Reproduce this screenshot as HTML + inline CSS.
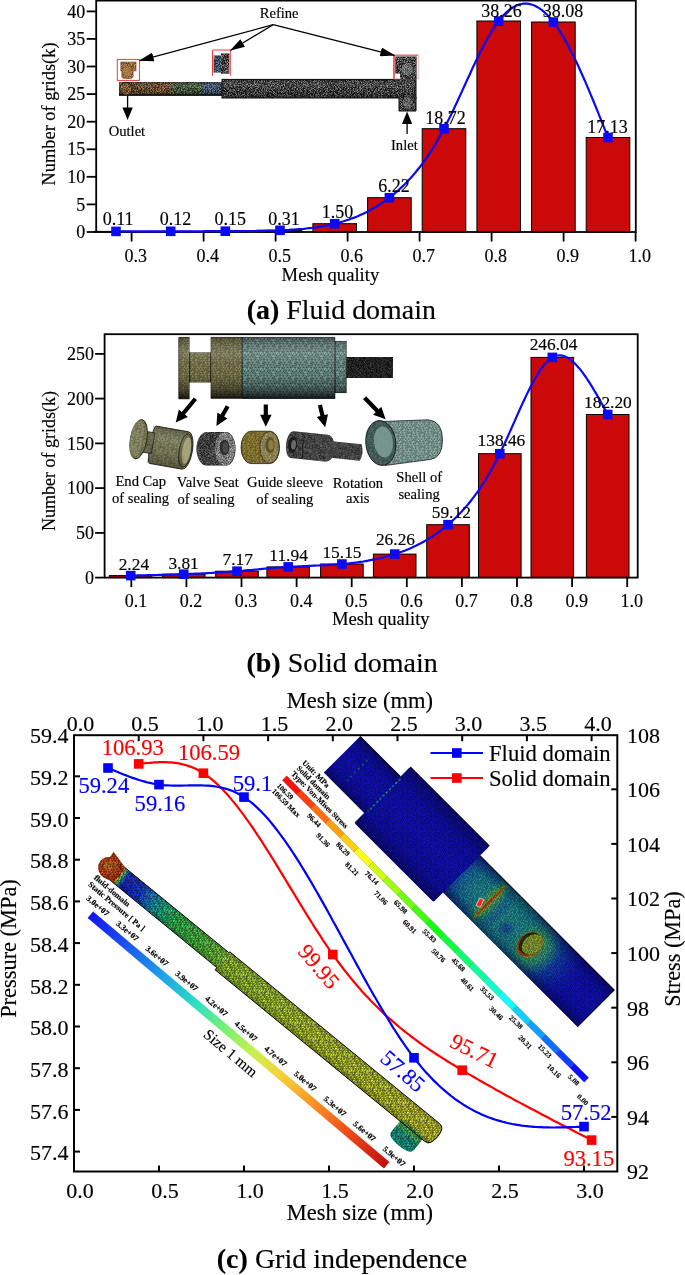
<!DOCTYPE html>
<html><head><meta charset="utf-8"><title>Mesh quality and grid independence</title>
<style>html,body{margin:0;padding:0;background:#fff}svg{display:block}text{font-family:"Liberation Serif", "Times New Roman", serif;stroke:#000;stroke-width:0.16px}</style></head>
<body><svg width="685" height="1275" viewBox="0 0 685 1275">
<rect width="685" height="1275" fill="#fff"/>
<g id="chartA">
<rect x="94.2" y="231.4" width="43.6" height="0.6" fill="#cb0909" stroke="#000" stroke-width="1"/>
<rect x="148.9" y="231.3" width="43.6" height="0.7" fill="#cb0909" stroke="#000" stroke-width="1"/>
<rect x="203.5" y="231.2" width="43.6" height="0.8" fill="#cb0909" stroke="#000" stroke-width="1"/>
<rect x="258.2" y="230.3" width="43.6" height="1.7" fill="#cb0909" stroke="#000" stroke-width="1"/>
<rect x="312.9" y="223.7" width="43.6" height="8.3" fill="#cb0909" stroke="#000" stroke-width="1"/>
<rect x="367.6" y="197.7" width="43.6" height="34.3" fill="#cb0909" stroke="#000" stroke-width="1"/>
<rect x="422.2" y="128.7" width="43.6" height="103.3" fill="#cb0909" stroke="#000" stroke-width="1"/>
<rect x="476.9" y="21.0" width="43.6" height="211.0" fill="#cb0909" stroke="#000" stroke-width="1"/>
<rect x="531.6" y="22.0" width="43.6" height="210.0" fill="#cb0909" stroke="#000" stroke-width="1"/>
<rect x="586.2" y="137.5" width="43.6" height="94.5" fill="#cb0909" stroke="#000" stroke-width="1"/>
<defs><pattern id="mesh" width="13.00" height="14.00" patternUnits="userSpaceOnUse"><path d="M-0.7,-2.2L2.1,-2.4M-0.7,-2.2L-0.4,0.1M-0.7,-2.2L-2.5,0.6M-2.5,0.6L-0.4,0.1M-2.5,0.6L-1.0,2.9M-2.5,0.6L-4.5,1.9M-1.0,2.9L1.1,2.5M-1.0,2.9L0.2,4.1M-1.0,2.9L-2.0,5.4M-2.0,5.4L0.2,4.1M-2.0,5.4L-1.0,6.5M-2.0,5.4L-3.7,6.7M-1.0,6.5L0.5,7.5M-1.0,6.5L-0.4,9.0M-1.0,6.5L-2.0,10.0M-2.0,10.0L-0.4,9.0M-2.0,10.0L-0.7,11.8M-2.0,10.0L-4.1,11.8M-0.7,11.8L2.1,11.6M-0.7,11.8L-0.4,14.1M-0.7,11.8L-2.5,14.6M-2.5,14.6L-0.4,14.1M-2.5,14.6L-1.0,16.9M-2.5,14.6L-4.5,15.9M2.1,-2.4L4.3,-2.2M2.1,-2.4L3.1,-0.0M2.1,-2.4L-0.4,0.1M-0.4,0.1L3.1,-0.0M-0.4,0.1L1.1,2.5M-0.4,0.1L-1.0,2.9M1.1,2.5L4.1,1.8M1.1,2.5L2.8,5.2M1.1,2.5L0.2,4.1M0.2,4.1L2.8,5.2M0.2,4.1L0.5,7.5M0.2,4.1L-1.0,6.5M0.5,7.5L3.9,7.3M0.5,7.5L2.9,8.7M0.5,7.5L-0.4,9.0M-0.4,9.0L2.9,8.7M-0.4,9.0L2.1,11.6M-0.4,9.0L-0.7,11.8M2.1,11.6L4.3,11.8M2.1,11.6L3.1,14.0M2.1,11.6L-0.4,14.1M-0.4,14.1L3.1,14.0M-0.4,14.1L1.1,16.5M-0.4,14.1L-1.0,16.9M4.3,-2.2L6.4,-1.7M4.3,-2.2L4.9,-0.7M4.3,-2.2L3.1,-0.0M3.1,-0.0L4.9,-0.7M3.1,-0.0L4.1,1.8M3.1,-0.0L1.1,2.5M4.1,1.8L7.1,2.3M4.1,1.8L5.5,5.2M4.1,1.8L2.8,5.2M2.8,5.2L5.5,5.2M2.8,5.2L3.9,7.3M2.8,5.2L0.5,7.5M3.9,7.3L6.8,7.6M3.9,7.3L5.0,9.8M3.9,7.3L2.9,8.7M2.9,8.7L5.0,9.8M2.9,8.7L4.3,11.8M2.9,8.7L2.1,11.6M4.3,11.8L6.4,12.3M4.3,11.8L4.9,13.3M4.3,11.8L3.1,14.0M3.1,14.0L4.9,13.3M3.1,14.0L4.1,15.8M3.1,14.0L1.1,16.5M6.4,-1.7L8.9,-2.2M6.4,-1.7L8.4,-0.6M6.4,-1.7L4.9,-0.7M4.9,-0.7L8.4,-0.6M4.9,-0.7L7.1,2.3M4.9,-0.7L4.1,1.8M7.1,2.3L8.5,1.9M7.1,2.3L8.5,4.6M7.1,2.3L5.5,5.2M5.5,5.2L8.5,4.6M5.5,5.2L6.8,7.6M5.5,5.2L3.9,7.3M6.8,7.6L9.3,6.7M6.8,7.6L7.8,9.2M6.8,7.6L5.0,9.8M5.0,9.8L7.8,9.2M5.0,9.8L6.4,12.3M5.0,9.8L4.3,11.8M6.4,12.3L8.9,11.8M6.4,12.3L8.4,13.4M6.4,12.3L4.9,13.3M4.9,13.3L8.4,13.4M4.9,13.3L7.1,16.3M4.9,13.3L4.1,15.8M8.9,-2.2L12.3,-2.2M8.9,-2.2L10.5,0.6M8.9,-2.2L8.4,-0.6M8.4,-0.6L10.5,0.6M8.4,-0.6L8.5,1.9M8.4,-0.6L7.1,2.3M8.5,1.9L12.0,2.9M8.5,1.9L11.0,5.4M8.5,1.9L8.5,4.6M8.5,4.6L11.0,5.4M8.5,4.6L9.3,6.7M8.5,4.6L6.8,7.6M9.3,6.7L12.0,6.5M9.3,6.7L11.0,10.0M9.3,6.7L7.8,9.2M7.8,9.2L11.0,10.0M7.8,9.2L8.9,11.8M7.8,9.2L6.4,12.3M8.9,11.8L12.3,11.8M8.9,11.8L10.5,14.6M8.9,11.8L8.4,13.4M8.4,13.4L10.5,14.6M8.4,13.4L8.5,15.9M8.4,13.4L7.1,16.3M12.3,-2.2L15.1,-2.4M12.3,-2.2L12.6,0.1M12.3,-2.2L10.5,0.6M10.5,0.6L12.6,0.1M10.5,0.6L12.0,2.9M10.5,0.6L8.5,1.9M12.0,2.9L14.1,2.5M12.0,2.9L13.2,4.1M12.0,2.9L11.0,5.4M11.0,5.4L13.2,4.1M11.0,5.4L12.0,6.5M11.0,5.4L9.3,6.7M12.0,6.5L13.5,7.5M12.0,6.5L12.6,9.0M12.0,6.5L11.0,10.0M11.0,10.0L12.6,9.0M11.0,10.0L12.3,11.8M11.0,10.0L8.9,11.8M12.3,11.8L15.1,11.6M12.3,11.8L12.6,14.1M12.3,11.8L10.5,14.6M10.5,14.6L12.6,14.1M10.5,14.6L12.0,16.9M10.5,14.6L8.5,15.9M15.1,-2.4L17.3,-2.2M15.1,-2.4L16.1,-0.0M15.1,-2.4L12.6,0.1M12.6,0.1L16.1,-0.0M12.6,0.1L14.1,2.5M12.6,0.1L12.0,2.9M14.1,2.5L17.1,1.8M14.1,2.5L15.8,5.2M14.1,2.5L13.2,4.1M13.2,4.1L15.8,5.2M13.2,4.1L13.5,7.5M13.2,4.1L12.0,6.5M13.5,7.5L16.9,7.3M13.5,7.5L15.9,8.7M13.5,7.5L12.6,9.0M12.6,9.0L15.9,8.7M12.6,9.0L15.1,11.6M12.6,9.0L12.3,11.8M15.1,11.6L17.3,11.8M15.1,11.6L16.1,14.0M15.1,11.6L12.6,14.1M12.6,14.1L16.1,14.0M12.6,14.1L14.1,16.5M12.6,14.1L12.0,16.9" stroke="#000" stroke-width="0.5" fill="none"/></pattern><pattern id="meshL" width="16.00" height="16.00" patternUnits="userSpaceOnUse"><path d="M-1.3,-3.0L1.7,-3.0M-1.3,-3.0L-0.5,-0.6M-1.3,-3.0L-4.1,0.2M-4.1,0.2L-0.5,-0.6M-4.1,0.2L-2.0,2.7M-4.1,0.2L-4.1,3.2M-2.0,2.7L1.4,2.1M-2.0,2.7L-0.8,5.2M-2.0,2.7L-3.3,5.1M-3.3,5.1L-0.8,5.2M-3.3,5.1L-0.6,7.5M-3.3,5.1L-4.6,7.9M-0.6,7.5L2.4,8.5M-0.6,7.5L0.5,10.2M-0.6,7.5L-3.4,10.2M-3.4,10.2L0.5,10.2M-3.4,10.2L-1.3,13.0M-3.4,10.2L-4.2,12.6M-1.3,13.0L1.7,13.0M-1.3,13.0L-0.5,15.4M-1.3,13.0L-4.1,16.2M-4.1,16.2L-0.5,15.4M-4.1,16.2L-2.0,18.7M-4.1,16.2L-4.1,19.2M1.7,-3.0L5.2,-2.1M1.7,-3.0L2.6,-0.6M1.7,-3.0L-0.5,-0.6M-0.5,-0.6L2.6,-0.6M-0.5,-0.6L1.4,2.1M-0.5,-0.6L-2.0,2.7M1.4,2.1L4.3,3.4M1.4,2.1L3.8,5.8M1.4,2.1L-0.8,5.2M-0.8,5.2L3.8,5.8M-0.8,5.2L2.4,8.5M-0.8,5.2L-0.6,7.5M2.4,8.5L5.4,7.5M2.4,8.5L2.8,10.9M2.4,8.5L0.5,10.2M0.5,10.2L2.8,10.9M0.5,10.2L1.7,13.0M0.5,10.2L-1.3,13.0M1.7,13.0L5.2,13.9M1.7,13.0L2.6,15.4M1.7,13.0L-0.5,15.4M-0.5,15.4L2.6,15.4M-0.5,15.4L1.4,18.1M-0.5,15.4L-2.0,18.7M5.2,-2.1L8.1,-3.0M5.2,-2.1L7.1,-0.7M5.2,-2.1L2.6,-0.6M2.6,-0.6L7.1,-0.7M2.6,-0.6L4.3,3.4M2.6,-0.6L1.4,2.1M4.3,3.4L8.2,2.9M4.3,3.4L6.4,4.8M4.3,3.4L3.8,5.8M3.8,5.8L6.4,4.8M3.8,5.8L5.4,7.5M3.8,5.8L2.4,8.5M5.4,7.5L7.9,7.3M5.4,7.5L7.2,11.3M5.4,7.5L2.8,10.9M2.8,10.9L7.2,11.3M2.8,10.9L5.2,13.9M2.8,10.9L1.7,13.0M5.2,13.9L8.1,13.0M5.2,13.9L7.1,15.3M5.2,13.9L2.6,15.4M2.6,15.4L7.1,15.3M2.6,15.4L4.3,19.4M2.6,15.4L1.4,18.1M8.1,-3.0L11.8,-3.4M8.1,-3.0L10.4,0.1M8.1,-3.0L7.1,-0.7M7.1,-0.7L10.4,0.1M7.1,-0.7L8.2,2.9M7.1,-0.7L4.3,3.4M8.2,2.9L11.9,3.2M8.2,2.9L9.6,5.2M8.2,2.9L6.4,4.8M6.4,4.8L9.6,5.2M6.4,4.8L7.9,7.3M6.4,4.8L5.4,7.5M7.9,7.3L11.4,7.9M7.9,7.3L8.9,10.4M7.9,7.3L7.2,11.3M7.2,11.3L8.9,10.4M7.2,11.3L8.1,13.0M7.2,11.3L5.2,13.9M8.1,13.0L11.8,12.6M8.1,13.0L10.4,16.1M8.1,13.0L7.1,15.3M7.1,15.3L10.4,16.1M7.1,15.3L8.2,18.9M7.1,15.3L4.3,19.4M11.8,-3.4L14.7,-3.0M11.8,-3.4L11.9,0.2M11.8,-3.4L10.4,0.1M10.4,0.1L11.9,0.2M10.4,0.1L11.9,3.2M10.4,0.1L8.2,2.9M11.9,3.2L14.0,2.7M11.9,3.2L12.7,5.1M11.9,3.2L9.6,5.2M9.6,5.2L12.7,5.1M9.6,5.2L11.4,7.9M9.6,5.2L7.9,7.3M11.4,7.9L15.4,7.5M11.4,7.9L12.6,10.2M11.4,7.9L8.9,10.4M8.9,10.4L12.6,10.2M8.9,10.4L11.8,12.6M8.9,10.4L8.1,13.0M11.8,12.6L14.7,13.0M11.8,12.6L11.9,16.2M11.8,12.6L10.4,16.1M10.4,16.1L11.9,16.2M10.4,16.1L11.9,19.2M10.4,16.1L8.2,18.9M14.7,-3.0L17.7,-3.0M14.7,-3.0L15.5,-0.6M14.7,-3.0L11.9,0.2M11.9,0.2L15.5,-0.6M11.9,0.2L14.0,2.7M11.9,0.2L11.9,3.2M14.0,2.7L17.4,2.1M14.0,2.7L15.2,5.2M14.0,2.7L12.7,5.1M12.7,5.1L15.2,5.2M12.7,5.1L15.4,7.5M12.7,5.1L11.4,7.9M15.4,7.5L18.4,8.5M15.4,7.5L16.5,10.2M15.4,7.5L12.6,10.2M12.6,10.2L16.5,10.2M12.6,10.2L14.7,13.0M12.6,10.2L11.8,12.6M14.7,13.0L17.7,13.0M14.7,13.0L15.5,15.4M14.7,13.0L11.9,16.2M11.9,16.2L15.5,15.4M11.9,16.2L14.0,18.7M11.9,16.2L11.9,19.2M17.7,-3.0L21.2,-2.1M17.7,-3.0L18.6,-0.6M17.7,-3.0L15.5,-0.6M15.5,-0.6L18.6,-0.6M15.5,-0.6L17.4,2.1M15.5,-0.6L14.0,2.7M17.4,2.1L20.3,3.4M17.4,2.1L19.8,5.8M17.4,2.1L15.2,5.2M15.2,5.2L19.8,5.8M15.2,5.2L18.4,8.5M15.2,5.2L15.4,7.5M18.4,8.5L21.4,7.5M18.4,8.5L18.8,10.9M18.4,8.5L16.5,10.2M16.5,10.2L18.8,10.9M16.5,10.2L17.7,13.0M16.5,10.2L14.7,13.0M17.7,13.0L21.2,13.9M17.7,13.0L18.6,15.4M17.7,13.0L15.5,15.4M15.5,15.4L18.6,15.4M15.5,15.4L17.4,18.1M15.5,15.4L14.0,18.7" stroke="#000" stroke-width="0.5" fill="none"/></pattern><pattern id="speck" width="12" height="12" patternUnits="userSpaceOnUse"><rect width="12" height="12" fill="#161616"/><rect x="0.0" y="7.2" width="1.1" height="1.1" fill="#8c8c8c"/><rect x="0.0" y="8.4" width="1.2" height="1.2" fill="#c4c4c4"/><rect x="0.0" y="9.6" width="1.1" height="1.1" fill="#8c8c8c"/><rect x="0.0" y="10.8" width="1.0" height="1.0" fill="#c4c4c4"/><rect x="1.2" y="0.0" width="0.9" height="0.9" fill="#c4c4c4"/><rect x="1.2" y="1.2" width="0.8" height="0.8" fill="#8c8c8c"/><rect x="1.2" y="3.6" width="0.9" height="0.9" fill="#5a5a5a"/><rect x="1.2" y="4.8" width="0.8" height="0.8" fill="#c4c4c4"/><rect x="1.2" y="6.0" width="1.1" height="1.1" fill="#c4c4c4"/><rect x="1.2" y="7.2" width="1.0" height="1.0" fill="#c4c4c4"/><rect x="1.2" y="9.6" width="0.8" height="0.8" fill="#5a5a5a"/><rect x="2.4" y="0.0" width="0.9" height="0.9" fill="#c4c4c4"/><rect x="2.4" y="1.2" width="0.8" height="0.8" fill="#c4c4c4"/><rect x="2.4" y="2.4" width="1.0" height="1.0" fill="#5a5a5a"/><rect x="2.4" y="6.0" width="1.1" height="1.1" fill="#8c8c8c"/><rect x="2.4" y="8.4" width="0.9" height="0.9" fill="#8c8c8c"/><rect x="2.4" y="9.6" width="1.2" height="1.2" fill="#8c8c8c"/><rect x="2.4" y="10.8" width="0.9" height="0.9" fill="#5a5a5a"/><rect x="3.6" y="0.0" width="1.1" height="1.1" fill="#5a5a5a"/><rect x="3.6" y="1.2" width="1.1" height="1.1" fill="#5a5a5a"/><rect x="3.6" y="7.2" width="1.2" height="1.2" fill="#c4c4c4"/><rect x="3.6" y="9.6" width="1.1" height="1.1" fill="#8c8c8c"/><rect x="3.6" y="10.8" width="0.8" height="0.8" fill="#8c8c8c"/><rect x="4.8" y="3.6" width="0.8" height="0.8" fill="#c4c4c4"/><rect x="4.8" y="6.0" width="0.9" height="0.9" fill="#c4c4c4"/><rect x="4.8" y="9.6" width="0.9" height="0.9" fill="#8c8c8c"/><rect x="6.0" y="2.4" width="0.8" height="0.8" fill="#8c8c8c"/><rect x="6.0" y="3.6" width="1.0" height="1.0" fill="#5a5a5a"/><rect x="6.0" y="4.8" width="1.1" height="1.1" fill="#c4c4c4"/><rect x="6.0" y="6.0" width="0.9" height="0.9" fill="#8c8c8c"/><rect x="6.0" y="8.4" width="0.7" height="0.7" fill="#5a5a5a"/><rect x="7.2" y="0.0" width="1.0" height="1.0" fill="#5a5a5a"/><rect x="7.2" y="1.2" width="0.8" height="0.8" fill="#8c8c8c"/><rect x="7.2" y="3.6" width="0.9" height="0.9" fill="#8c8c8c"/><rect x="8.4" y="2.4" width="1.2" height="1.2" fill="#8c8c8c"/><rect x="8.4" y="3.6" width="1.2" height="1.2" fill="#5a5a5a"/><rect x="8.4" y="7.2" width="1.0" height="1.0" fill="#c4c4c4"/><rect x="9.6" y="0.0" width="1.1" height="1.1" fill="#8c8c8c"/><rect x="9.6" y="3.6" width="1.0" height="1.0" fill="#5a5a5a"/><rect x="9.6" y="6.0" width="1.1" height="1.1" fill="#5a5a5a"/><rect x="9.6" y="8.4" width="1.0" height="1.0" fill="#c4c4c4"/><rect x="9.6" y="9.6" width="1.1" height="1.1" fill="#5a5a5a"/><rect x="9.6" y="10.8" width="0.9" height="0.9" fill="#8c8c8c"/><rect x="10.8" y="3.6" width="0.9" height="0.9" fill="#5a5a5a"/><rect x="10.8" y="6.0" width="1.1" height="1.1" fill="#c4c4c4"/></pattern><pattern id="speckB" width="12" height="12" patternUnits="userSpaceOnUse"><rect width="12" height="12" fill="#3c2a1a"/><rect x="0.0" y="2.4" width="0.7" height="0.7" fill="#b07c4c"/><rect x="0.0" y="3.6" width="0.9" height="0.9" fill="#7a5230"/><rect x="0.0" y="6.0" width="0.9" height="0.9" fill="#e0ac72"/><rect x="0.0" y="9.6" width="1.0" height="1.0" fill="#7a5230"/><rect x="0.0" y="10.8" width="1.0" height="1.0" fill="#7a5230"/><rect x="1.2" y="1.2" width="1.0" height="1.0" fill="#7a5230"/><rect x="1.2" y="3.6" width="0.9" height="0.9" fill="#e0ac72"/><rect x="1.2" y="4.8" width="0.9" height="0.9" fill="#b07c4c"/><rect x="1.2" y="6.0" width="1.1" height="1.1" fill="#e0ac72"/><rect x="1.2" y="8.4" width="1.0" height="1.0" fill="#e0ac72"/><rect x="1.2" y="9.6" width="1.2" height="1.2" fill="#7a5230"/><rect x="1.2" y="10.8" width="1.0" height="1.0" fill="#e0ac72"/><rect x="2.4" y="4.8" width="0.8" height="0.8" fill="#b07c4c"/><rect x="2.4" y="6.0" width="1.0" height="1.0" fill="#b07c4c"/><rect x="2.4" y="7.2" width="1.0" height="1.0" fill="#7a5230"/><rect x="2.4" y="8.4" width="0.8" height="0.8" fill="#7a5230"/><rect x="2.4" y="10.8" width="0.8" height="0.8" fill="#e0ac72"/><rect x="3.6" y="0.0" width="1.0" height="1.0" fill="#7a5230"/><rect x="3.6" y="1.2" width="0.7" height="0.7" fill="#e0ac72"/><rect x="3.6" y="2.4" width="1.0" height="1.0" fill="#7a5230"/><rect x="3.6" y="3.6" width="1.0" height="1.0" fill="#b07c4c"/><rect x="3.6" y="4.8" width="1.2" height="1.2" fill="#7a5230"/><rect x="3.6" y="6.0" width="1.0" height="1.0" fill="#b07c4c"/><rect x="3.6" y="8.4" width="0.8" height="0.8" fill="#b07c4c"/><rect x="4.8" y="2.4" width="1.1" height="1.1" fill="#b07c4c"/><rect x="4.8" y="3.6" width="0.9" height="0.9" fill="#b07c4c"/><rect x="4.8" y="7.2" width="0.8" height="0.8" fill="#7a5230"/><rect x="4.8" y="8.4" width="0.7" height="0.7" fill="#e0ac72"/><rect x="4.8" y="9.6" width="1.0" height="1.0" fill="#b07c4c"/><rect x="4.8" y="10.8" width="1.0" height="1.0" fill="#b07c4c"/><rect x="6.0" y="0.0" width="0.8" height="0.8" fill="#7a5230"/><rect x="6.0" y="1.2" width="1.0" height="1.0" fill="#b07c4c"/><rect x="6.0" y="2.4" width="1.0" height="1.0" fill="#b07c4c"/><rect x="6.0" y="3.6" width="0.9" height="0.9" fill="#7a5230"/><rect x="6.0" y="4.8" width="0.9" height="0.9" fill="#b07c4c"/><rect x="6.0" y="9.6" width="0.8" height="0.8" fill="#7a5230"/><rect x="7.2" y="2.4" width="1.0" height="1.0" fill="#b07c4c"/><rect x="7.2" y="6.0" width="1.1" height="1.1" fill="#7a5230"/><rect x="7.2" y="7.2" width="0.9" height="0.9" fill="#7a5230"/><rect x="7.2" y="9.6" width="0.7" height="0.7" fill="#7a5230"/><rect x="7.2" y="10.8" width="1.0" height="1.0" fill="#b07c4c"/><rect x="8.4" y="0.0" width="1.0" height="1.0" fill="#7a5230"/><rect x="8.4" y="1.2" width="0.9" height="0.9" fill="#e0ac72"/><rect x="8.4" y="4.8" width="0.8" height="0.8" fill="#b07c4c"/><rect x="8.4" y="7.2" width="0.7" height="0.7" fill="#e0ac72"/><rect x="8.4" y="8.4" width="1.2" height="1.2" fill="#7a5230"/><rect x="9.6" y="0.0" width="0.8" height="0.8" fill="#e0ac72"/><rect x="9.6" y="2.4" width="0.9" height="0.9" fill="#7a5230"/><rect x="9.6" y="6.0" width="1.2" height="1.2" fill="#e0ac72"/><rect x="9.6" y="7.2" width="0.9" height="0.9" fill="#b07c4c"/><rect x="9.6" y="8.4" width="1.0" height="1.0" fill="#7a5230"/><rect x="9.6" y="10.8" width="0.9" height="0.9" fill="#b07c4c"/><rect x="10.8" y="1.2" width="0.9" height="0.9" fill="#b07c4c"/><rect x="10.8" y="3.6" width="0.7" height="0.7" fill="#b07c4c"/><rect x="10.8" y="4.8" width="1.0" height="1.0" fill="#7a5230"/><rect x="10.8" y="6.0" width="1.1" height="1.1" fill="#e0ac72"/><rect x="10.8" y="7.2" width="0.7" height="0.7" fill="#e0ac72"/></pattern><pattern id="speckG" width="12" height="12" patternUnits="userSpaceOnUse"><rect width="12" height="12" fill="#26321f"/><rect x="0.0" y="0.0" width="0.9" height="0.9" fill="#94b488"/><rect x="0.0" y="1.2" width="0.8" height="0.8" fill="#4a6a44"/><rect x="0.0" y="2.4" width="0.8" height="0.8" fill="#4a6a44"/><rect x="0.0" y="3.6" width="0.8" height="0.8" fill="#688a60"/><rect x="0.0" y="4.8" width="0.7" height="0.7" fill="#688a60"/><rect x="0.0" y="6.0" width="1.0" height="1.0" fill="#94b488"/><rect x="0.0" y="7.2" width="1.0" height="1.0" fill="#94b488"/><rect x="0.0" y="8.4" width="0.7" height="0.7" fill="#94b488"/><rect x="0.0" y="10.8" width="1.0" height="1.0" fill="#94b488"/><rect x="1.2" y="0.0" width="1.1" height="1.1" fill="#4a6a44"/><rect x="1.2" y="1.2" width="1.0" height="1.0" fill="#4a6a44"/><rect x="1.2" y="2.4" width="1.0" height="1.0" fill="#94b488"/><rect x="1.2" y="3.6" width="1.0" height="1.0" fill="#94b488"/><rect x="1.2" y="4.8" width="0.9" height="0.9" fill="#4a6a44"/><rect x="1.2" y="6.0" width="1.2" height="1.2" fill="#4a6a44"/><rect x="1.2" y="7.2" width="1.1" height="1.1" fill="#94b488"/><rect x="1.2" y="9.6" width="0.9" height="0.9" fill="#4a6a44"/><rect x="1.2" y="10.8" width="1.1" height="1.1" fill="#688a60"/><rect x="2.4" y="0.0" width="0.8" height="0.8" fill="#94b488"/><rect x="2.4" y="1.2" width="0.8" height="0.8" fill="#688a60"/><rect x="2.4" y="2.4" width="1.2" height="1.2" fill="#94b488"/><rect x="2.4" y="3.6" width="1.0" height="1.0" fill="#4a6a44"/><rect x="2.4" y="6.0" width="0.9" height="0.9" fill="#4a6a44"/><rect x="2.4" y="7.2" width="0.8" height="0.8" fill="#688a60"/><rect x="2.4" y="8.4" width="0.9" height="0.9" fill="#688a60"/><rect x="2.4" y="10.8" width="0.9" height="0.9" fill="#4a6a44"/><rect x="3.6" y="0.0" width="1.1" height="1.1" fill="#4a6a44"/><rect x="3.6" y="1.2" width="1.1" height="1.1" fill="#688a60"/><rect x="3.6" y="2.4" width="0.9" height="0.9" fill="#688a60"/><rect x="3.6" y="4.8" width="1.1" height="1.1" fill="#94b488"/><rect x="3.6" y="6.0" width="0.9" height="0.9" fill="#94b488"/><rect x="3.6" y="8.4" width="0.9" height="0.9" fill="#94b488"/><rect x="3.6" y="9.6" width="1.1" height="1.1" fill="#94b488"/><rect x="4.8" y="0.0" width="1.2" height="1.2" fill="#688a60"/><rect x="4.8" y="2.4" width="0.8" height="0.8" fill="#94b488"/><rect x="4.8" y="3.6" width="1.0" height="1.0" fill="#94b488"/><rect x="4.8" y="4.8" width="0.8" height="0.8" fill="#4a6a44"/><rect x="4.8" y="6.0" width="0.9" height="0.9" fill="#94b488"/><rect x="4.8" y="7.2" width="0.9" height="0.9" fill="#4a6a44"/><rect x="4.8" y="8.4" width="1.2" height="1.2" fill="#4a6a44"/><rect x="6.0" y="0.0" width="1.1" height="1.1" fill="#4a6a44"/><rect x="6.0" y="1.2" width="0.9" height="0.9" fill="#688a60"/><rect x="6.0" y="2.4" width="0.7" height="0.7" fill="#688a60"/><rect x="6.0" y="3.6" width="0.9" height="0.9" fill="#94b488"/><rect x="6.0" y="4.8" width="0.7" height="0.7" fill="#4a6a44"/><rect x="6.0" y="6.0" width="1.0" height="1.0" fill="#94b488"/><rect x="6.0" y="9.6" width="1.0" height="1.0" fill="#94b488"/><rect x="6.0" y="10.8" width="1.2" height="1.2" fill="#688a60"/><rect x="7.2" y="1.2" width="1.1" height="1.1" fill="#94b488"/><rect x="7.2" y="3.6" width="0.9" height="0.9" fill="#688a60"/><rect x="7.2" y="4.8" width="0.9" height="0.9" fill="#4a6a44"/><rect x="7.2" y="6.0" width="0.8" height="0.8" fill="#4a6a44"/><rect x="7.2" y="7.2" width="0.9" height="0.9" fill="#4a6a44"/><rect x="8.4" y="0.0" width="1.1" height="1.1" fill="#4a6a44"/><rect x="8.4" y="2.4" width="1.2" height="1.2" fill="#688a60"/><rect x="8.4" y="3.6" width="1.0" height="1.0" fill="#94b488"/><rect x="8.4" y="6.0" width="1.0" height="1.0" fill="#94b488"/><rect x="8.4" y="9.6" width="1.1" height="1.1" fill="#94b488"/><rect x="9.6" y="0.0" width="1.0" height="1.0" fill="#4a6a44"/><rect x="9.6" y="4.8" width="1.1" height="1.1" fill="#94b488"/><rect x="9.6" y="7.2" width="1.2" height="1.2" fill="#4a6a44"/><rect x="9.6" y="9.6" width="0.8" height="0.8" fill="#94b488"/><rect x="9.6" y="10.8" width="0.8" height="0.8" fill="#688a60"/><rect x="10.8" y="3.6" width="0.9" height="0.9" fill="#4a6a44"/><rect x="10.8" y="7.2" width="1.1" height="1.1" fill="#688a60"/><rect x="10.8" y="9.6" width="0.9" height="0.9" fill="#94b488"/></pattern><pattern id="speckU" width="12" height="12" patternUnits="userSpaceOnUse"><rect width="12" height="12" fill="#242e3c"/><rect x="0.0" y="0.0" width="0.8" height="0.8" fill="#647c9a"/><rect x="0.0" y="2.4" width="1.1" height="1.1" fill="#96acc6"/><rect x="0.0" y="3.6" width="1.0" height="1.0" fill="#647c9a"/><rect x="0.0" y="4.8" width="0.9" height="0.9" fill="#647c9a"/><rect x="0.0" y="6.0" width="0.8" height="0.8" fill="#647c9a"/><rect x="0.0" y="7.2" width="1.1" height="1.1" fill="#96acc6"/><rect x="0.0" y="8.4" width="1.2" height="1.2" fill="#647c9a"/><rect x="0.0" y="9.6" width="1.0" height="1.0" fill="#96acc6"/><rect x="0.0" y="10.8" width="0.9" height="0.9" fill="#96acc6"/><rect x="1.2" y="1.2" width="0.9" height="0.9" fill="#96acc6"/><rect x="1.2" y="3.6" width="1.0" height="1.0" fill="#46607e"/><rect x="1.2" y="4.8" width="1.0" height="1.0" fill="#96acc6"/><rect x="1.2" y="6.0" width="1.0" height="1.0" fill="#96acc6"/><rect x="1.2" y="7.2" width="0.9" height="0.9" fill="#46607e"/><rect x="1.2" y="8.4" width="0.9" height="0.9" fill="#647c9a"/><rect x="1.2" y="9.6" width="0.8" height="0.8" fill="#647c9a"/><rect x="2.4" y="0.0" width="0.9" height="0.9" fill="#46607e"/><rect x="2.4" y="1.2" width="1.1" height="1.1" fill="#46607e"/><rect x="2.4" y="2.4" width="0.9" height="0.9" fill="#96acc6"/><rect x="2.4" y="3.6" width="1.0" height="1.0" fill="#647c9a"/><rect x="2.4" y="4.8" width="1.2" height="1.2" fill="#46607e"/><rect x="2.4" y="6.0" width="0.8" height="0.8" fill="#647c9a"/><rect x="2.4" y="7.2" width="0.8" height="0.8" fill="#647c9a"/><rect x="2.4" y="8.4" width="0.9" height="0.9" fill="#647c9a"/><rect x="3.6" y="0.0" width="0.8" height="0.8" fill="#647c9a"/><rect x="3.6" y="3.6" width="0.9" height="0.9" fill="#96acc6"/><rect x="3.6" y="4.8" width="0.9" height="0.9" fill="#647c9a"/><rect x="3.6" y="6.0" width="1.2" height="1.2" fill="#647c9a"/><rect x="3.6" y="7.2" width="0.9" height="0.9" fill="#46607e"/><rect x="3.6" y="8.4" width="0.8" height="0.8" fill="#46607e"/><rect x="3.6" y="10.8" width="0.8" height="0.8" fill="#46607e"/><rect x="4.8" y="0.0" width="0.8" height="0.8" fill="#647c9a"/><rect x="4.8" y="2.4" width="1.2" height="1.2" fill="#96acc6"/><rect x="4.8" y="3.6" width="1.2" height="1.2" fill="#96acc6"/><rect x="4.8" y="4.8" width="1.0" height="1.0" fill="#46607e"/><rect x="4.8" y="7.2" width="0.7" height="0.7" fill="#647c9a"/><rect x="4.8" y="9.6" width="0.7" height="0.7" fill="#46607e"/><rect x="6.0" y="2.4" width="0.9" height="0.9" fill="#96acc6"/><rect x="6.0" y="3.6" width="0.8" height="0.8" fill="#96acc6"/><rect x="6.0" y="6.0" width="1.1" height="1.1" fill="#647c9a"/><rect x="6.0" y="7.2" width="1.0" height="1.0" fill="#96acc6"/><rect x="6.0" y="8.4" width="1.1" height="1.1" fill="#96acc6"/><rect x="6.0" y="9.6" width="1.1" height="1.1" fill="#96acc6"/><rect x="6.0" y="10.8" width="1.1" height="1.1" fill="#647c9a"/><rect x="7.2" y="0.0" width="0.8" height="0.8" fill="#96acc6"/><rect x="7.2" y="1.2" width="0.8" height="0.8" fill="#96acc6"/><rect x="7.2" y="2.4" width="1.0" height="1.0" fill="#46607e"/><rect x="7.2" y="3.6" width="1.1" height="1.1" fill="#647c9a"/><rect x="7.2" y="4.8" width="1.1" height="1.1" fill="#46607e"/><rect x="7.2" y="6.0" width="1.0" height="1.0" fill="#46607e"/><rect x="7.2" y="7.2" width="1.0" height="1.0" fill="#647c9a"/><rect x="7.2" y="10.8" width="0.9" height="0.9" fill="#46607e"/><rect x="8.4" y="0.0" width="1.2" height="1.2" fill="#647c9a"/><rect x="8.4" y="2.4" width="0.8" height="0.8" fill="#647c9a"/><rect x="8.4" y="3.6" width="0.9" height="0.9" fill="#46607e"/><rect x="8.4" y="7.2" width="1.1" height="1.1" fill="#46607e"/><rect x="8.4" y="8.4" width="1.0" height="1.0" fill="#647c9a"/><rect x="8.4" y="9.6" width="0.9" height="0.9" fill="#647c9a"/><rect x="9.6" y="1.2" width="0.9" height="0.9" fill="#647c9a"/><rect x="9.6" y="2.4" width="1.0" height="1.0" fill="#46607e"/><rect x="9.6" y="4.8" width="1.0" height="1.0" fill="#46607e"/><rect x="9.6" y="6.0" width="0.8" height="0.8" fill="#647c9a"/><rect x="9.6" y="8.4" width="0.8" height="0.8" fill="#96acc6"/><rect x="9.6" y="9.6" width="1.1" height="1.1" fill="#46607e"/><rect x="10.8" y="4.8" width="0.8" height="0.8" fill="#46607e"/><rect x="10.8" y="8.4" width="1.2" height="1.2" fill="#96acc6"/></pattern>
<linearGradient id="cylV" x1="0" y1="0" x2="0" y2="1"><stop offset="0" stop-color="#000" stop-opacity="0.35"/><stop offset="0.35" stop-color="#fff" stop-opacity="0.12"/><stop offset="0.6" stop-color="#000" stop-opacity="0"/><stop offset="1" stop-color="#000" stop-opacity="0.45"/></linearGradient>
<filter id="spk" x="0" y="0" width="1" height="1" color-interpolation-filters="sRGB"><feTurbulence type="fractalNoise" baseFrequency="1.3" numOctaves="1" seed="4" result="n"/><feColorMatrix in="n" type="matrix" values="0 0 0 0 0 0 0 0 0 0 0 0 0 0 0 3 0 0 0 -1.15" result="m"/><feComposite in="SourceGraphic" in2="m" operator="in"/></filter>
<filter id="spk2" x="0" y="0" width="1" height="1" color-interpolation-filters="sRGB"><feTurbulence type="fractalNoise" baseFrequency="1.5" numOctaves="1" seed="9" result="n"/><feColorMatrix in="n" type="matrix" values="0 0 0 0 0 0 0 0 0 0 0 0 0 0 0 2 0 0 0 -0.62" result="m"/><feComposite in="SourceGraphic" in2="m" operator="in"/></filter>
<linearGradient id="cylV2" x1="0" y1="0" x2="0" y2="1"><stop offset="0" stop-color="#000" stop-opacity="0.3"/><stop offset="0.3" stop-color="#fff" stop-opacity="0.1"/><stop offset="0.6" stop-color="#000" stop-opacity="0"/><stop offset="0.85" stop-color="#000" stop-opacity="0.35"/><stop offset="1" stop-color="#000" stop-opacity="0.8"/></linearGradient>
<marker id="ah" viewBox="0 0 15 9" refX="14" refY="4.5" markerWidth="15" markerHeight="9" markerUnits="userSpaceOnUse" orient="auto"><path d="M0,0L15,4.5L0,9z" fill="#000"/></marker>
</defs><g id="insetA">
<path d="M119,82H171V95.6H119z" fill="#2c1e12"/><path d="M119,82H171V95.6H119z" fill="#b98a5a" filter="url(#spk)"/>
<path d="M171,82H201V95.6H171z" fill="#1c2618"/><path d="M171,82H201V95.6H171z" fill="#78966e" filter="url(#spk)"/>
<path d="M201,82H222.5V95.6H201z" fill="#1a2230"/><path d="M201,82H222.5V95.6H201z" fill="#7a90aa" filter="url(#spk)"/>
<rect x="119" y="82" width="103.5" height="13.6" fill="url(#cylV)" opacity="0.7"/>
<rect x="119" y="94" width="103.5" height="1.8" fill="#151515"/>
<circle cx="126" cy="88.6" r="6.3" fill="#4a3018" stroke="#20140a" stroke-width="0.8"/><circle cx="126" cy="88.6" r="5.8" fill="#c09060" filter="url(#spk)"/>
<path d="M222,79.4H416V98H222z" fill="#101010"/><path d="M222,79.4H416V98H222z" fill="#8e8e8e" filter="url(#spk)"/>
<rect x="222" y="79.4" width="194" height="18.6" fill="url(#cylV)" opacity="0.6"/>
<rect x="222" y="79.4" width="194" height="18.6" fill="none" stroke="#0a0a0a" stroke-width="1"/>
<path d="M399,97H416V111H399z" fill="#101010"/><path d="M399,97H416V111H399z" fill="#8e8e8e" filter="url(#spk)"/>
<path d="M399,97 V111 H416 V97" fill="none" stroke="#0a0a0a" stroke-width="1"/>
<ellipse cx="407.5" cy="103" rx="4.5" ry="6.5" fill="#999" opacity="0.4"/>
<rect x="117.3" y="59.4" width="22.1" height="21" fill="#fff" stroke="#ee3b3b" stroke-width="1"/>
<path d="M120.5,61.8 H136.3 V71.2 H133.4 V76.5 Q133.4,79 127.5,79 Q121.5,79 121.5,76.5 V71.2 H120.5z" fill="#6e4a2a"/><path d="M120.5,61.8 H136.3 V71.2 H133.4 V76.5 Q133.4,79 127.5,79 Q121.5,79 121.5,76.5 V71.2 H120.5z" fill="#c8945e" filter="url(#spk)"/>
<ellipse cx="127" cy="71.5" rx="4.5" ry="4" fill="#c08a58" opacity="0.6"/>
<path d="M212.5,75.7 V50 H230.3 V75.7" fill="none" stroke="#ee3b3b" stroke-width="1"/>
<path d="M213.6,55.5H221.2V72.5H213.6z" fill="#1e2836"/><path d="M213.6,55.5H221.2V72.5H213.6z" fill="#7088a4" filter="url(#spk)"/>
<path d="M221,53.5H229.3V73.7H221z" fill="#121212"/><path d="M221,53.5H229.3V73.7H221z" fill="#969696" filter="url(#spk)"/>
<rect x="394" y="55.2" width="24.2" height="23.6" fill="#fff" stroke="#f6a5a5" stroke-width="1"/>
<path d="M394,55.2 V78.8" stroke="#e02020" stroke-width="1.2"/><path d="M394,55.2 H418" stroke="#ee4a4a" stroke-width="1"/>
<path d="M395.3,56.4 H416.6 V79 H400 V73.5 H395.3z" fill="#121212"/><path d="M395.3,56.4 H416.6 V79 H400 V73.5 H395.3z" fill="#969696" filter="url(#spk)"/>
<ellipse cx="407" cy="69" rx="5.5" ry="6" fill="#aaa" opacity="0.4"/>
<line x1="273.2" y1="24.7" x2="139.8" y2="60.6" stroke="#000" stroke-width="1.3" marker-end="url(#ah)"/>
<line x1="273.2" y1="24.7" x2="230.7" y2="50.2" stroke="#000" stroke-width="1.3" marker-end="url(#ah)"/>
<line x1="273.2" y1="24.7" x2="394.3" y2="55.3" stroke="#000" stroke-width="1.3" marker-end="url(#ah)"/>
<line x1="127.6" y1="96" x2="127.6" y2="110" stroke="#000" stroke-width="1.3"/><path d="M122.4,107.5 H132.8 L127.6,120z" fill="#000"/>
<line x1="407.1" y1="134" x2="407.1" y2="121" stroke="#000" stroke-width="1.3"/><path d="M402,124 H412.2 L407.1,111.6z" fill="#000"/>
<text x="259.7" y="17.9" font-size="14.6">Refine</text>
<text x="108.7" y="136" font-size="14.6">Outlet</text>
<text x="391" y="149.8" font-size="14.6">Inlet</text>
</g>
<rect x="96.2" y="0.6" width="539.5999999999999" height="231.4" fill="none" stroke="#000" stroke-width="1.8"/>
<line x1="86.7" y1="232.0" x2="96.2" y2="232.0" stroke="#000" stroke-width="1.8"/>
<text x="85.3" y="238.1" font-size="18" text-anchor="end" fill="#000">0</text>
<line x1="86.7" y1="204.4" x2="96.2" y2="204.4" stroke="#000" stroke-width="1.8"/>
<text x="85.3" y="210.5" font-size="18" text-anchor="end" fill="#000">5</text>
<line x1="86.7" y1="176.8" x2="96.2" y2="176.8" stroke="#000" stroke-width="1.8"/>
<text x="85.3" y="182.9" font-size="18" text-anchor="end" fill="#000">10</text>
<line x1="86.7" y1="149.3" x2="96.2" y2="149.3" stroke="#000" stroke-width="1.8"/>
<text x="85.3" y="155.4" font-size="18" text-anchor="end" fill="#000">15</text>
<line x1="86.7" y1="121.7" x2="96.2" y2="121.7" stroke="#000" stroke-width="1.8"/>
<text x="85.3" y="127.8" font-size="18" text-anchor="end" fill="#000">20</text>
<line x1="86.7" y1="94.1" x2="96.2" y2="94.1" stroke="#000" stroke-width="1.8"/>
<text x="85.3" y="100.2" font-size="18" text-anchor="end" fill="#000">25</text>
<line x1="86.7" y1="66.5" x2="96.2" y2="66.5" stroke="#000" stroke-width="1.8"/>
<text x="85.3" y="72.6" font-size="18" text-anchor="end" fill="#000">30</text>
<line x1="86.7" y1="38.9" x2="96.2" y2="38.9" stroke="#000" stroke-width="1.8"/>
<text x="85.3" y="45.0" font-size="18" text-anchor="end" fill="#000">35</text>
<line x1="86.7" y1="11.4" x2="96.2" y2="11.4" stroke="#000" stroke-width="1.8"/>
<text x="85.3" y="17.5" font-size="18" text-anchor="end" fill="#000">40</text>
<line x1="131.6" y1="232.0" x2="131.6" y2="241.5" stroke="#000" stroke-width="1.8"/>
<text x="135.8" y="262.3" font-size="18" text-anchor="middle" fill="#000">0.3</text>
<line x1="203.6" y1="232.0" x2="203.6" y2="241.5" stroke="#000" stroke-width="1.8"/>
<text x="207.8" y="262.3" font-size="18" text-anchor="middle" fill="#000">0.4</text>
<line x1="275.6" y1="232.0" x2="275.6" y2="241.5" stroke="#000" stroke-width="1.8"/>
<text x="279.8" y="262.3" font-size="18" text-anchor="middle" fill="#000">0.5</text>
<line x1="347.6" y1="232.0" x2="347.6" y2="241.5" stroke="#000" stroke-width="1.8"/>
<text x="351.8" y="262.3" font-size="18" text-anchor="middle" fill="#000">0.6</text>
<line x1="419.6" y1="232.0" x2="419.6" y2="241.5" stroke="#000" stroke-width="1.8"/>
<text x="423.8" y="262.3" font-size="18" text-anchor="middle" fill="#000">0.7</text>
<line x1="491.6" y1="232.0" x2="491.6" y2="241.5" stroke="#000" stroke-width="1.8"/>
<text x="495.8" y="262.3" font-size="18" text-anchor="middle" fill="#000">0.8</text>
<line x1="563.6" y1="232.0" x2="563.6" y2="241.5" stroke="#000" stroke-width="1.8"/>
<text x="567.8" y="262.3" font-size="18" text-anchor="middle" fill="#000">0.9</text>
<line x1="635.6" y1="232.0" x2="635.6" y2="241.5" stroke="#000" stroke-width="1.8"/>
<text x="639.8" y="262.3" font-size="18" text-anchor="middle" fill="#000">1.0</text>
<text x="330.4" y="280.7" font-size="18.6" text-anchor="middle" fill="#000">Mesh quality</text>
<text x="55" y="114" font-size="18.4" text-anchor="middle" fill="#000" transform="rotate(-90 55 114)">Number of grids(k)</text>
<path d="M116.0,231.4 L118.5,231.4 L120.9,231.4 L123.4,231.4 L125.9,231.4 L128.4,231.4 L130.8,231.4 L133.3,231.4 L135.8,231.4 L138.3,231.4 L140.7,231.4 L143.2,231.4 L145.7,231.4 L148.1,231.4 L150.6,231.4 L153.1,231.4 L155.6,231.4 L158.0,231.4 L160.5,231.4 L163.0,231.4 L165.5,231.3 L167.9,231.3 L170.4,231.3 L172.9,231.3 L175.3,231.3 L177.8,231.3 L180.3,231.3 L182.8,231.3 L185.2,231.3 L187.7,231.3 L190.2,231.3 L192.6,231.3 L195.1,231.3 L197.6,231.3 L200.1,231.3 L202.5,231.3 L205.0,231.2 L207.5,231.2 L210.0,231.2 L212.4,231.2 L214.9,231.2 L217.4,231.2 L219.8,231.2 L222.3,231.2 L224.8,231.2 L227.3,231.2 L229.7,231.2 L232.2,231.1 L234.7,231.1 L237.2,231.1 L239.6,231.1 L242.1,231.1 L244.6,231.1 L247.0,231.0 L249.5,231.0 L252.0,231.0 L254.5,231.0 L256.9,230.9 L259.4,230.9 L261.9,230.8 L264.4,230.8 L266.8,230.7 L269.3,230.6 L271.8,230.6 L274.2,230.5 L276.7,230.4 L279.2,230.3 L281.7,230.2 L284.1,230.1 L286.6,230.0 L289.1,229.9 L291.5,229.7 L294.0,229.6 L296.5,229.4 L299.0,229.2 L301.4,229.0 L303.9,228.8 L306.4,228.5 L308.9,228.2 L311.3,228.0 L313.8,227.6 L316.3,227.3 L318.7,226.9 L321.2,226.5 L323.7,226.1 L326.2,225.6 L328.6,225.1 L331.1,224.6 L333.6,224.0 L336.1,223.4 L338.5,222.7 L341.0,222.0 L343.5,221.3 L345.9,220.5 L348.4,219.7 L350.9,218.8 L353.4,217.9 L355.8,216.9 L358.3,215.9 L360.8,214.8 L363.3,213.7 L365.7,212.5 L368.2,211.2 L370.7,209.9 L373.1,208.5 L375.6,207.1 L378.1,205.5 L380.6,203.9 L383.0,202.3 L385.5,200.5 L388.0,198.7 L390.4,196.8 L392.9,194.9 L395.4,192.8 L397.9,190.7 L400.3,188.4 L402.8,186.1 L405.3,183.7 L407.8,181.1 L410.2,178.5 L412.7,175.7 L415.2,172.8 L417.6,169.8 L420.1,166.7 L422.6,163.4 L425.1,160.0 L427.5,156.4 L430.0,152.7 L432.5,148.9 L435.0,144.9 L437.4,140.7 L439.9,136.3 L442.4,131.8 L444.8,127.2 L447.3,122.3 L449.8,117.3 L452.3,112.2 L454.7,107.0 L457.2,101.7 L459.7,96.3 L462.2,90.9 L464.6,85.5 L467.1,80.0 L469.6,74.7 L472.0,69.3 L474.5,64.1 L477.0,58.9 L479.5,53.8 L481.9,48.9 L484.4,44.2 L486.9,39.6 L489.3,35.2 L491.8,31.1 L494.3,27.2 L496.8,23.6 L499.2,20.2 L501.7,17.2 L504.2,14.5 L506.7,12.1 L509.1,10.0 L511.6,8.2 L514.1,6.7 L516.5,5.5 L519.0,4.6 L521.5,4.0 L524.0,3.7 L526.4,3.6 L528.9,3.9 L531.4,4.5 L533.9,5.3 L536.3,6.5 L538.8,7.9 L541.3,9.6 L543.7,11.6 L546.2,13.8 L548.7,16.4 L551.2,19.2 L553.6,22.3 L556.1,25.7 L558.6,29.3 L561.1,33.2 L563.5,37.3 L566.0,41.6 L568.5,46.2 L570.9,50.9 L573.4,55.9 L575.9,61.0 L578.4,66.2 L580.8,71.7 L583.3,77.2 L585.8,82.9 L588.2,88.7 L590.7,94.6 L593.2,100.5 L595.7,106.6 L598.1,112.7 L600.6,118.9 L603.1,125.1 L605.6,131.3 L608.0,137.5" fill="none" stroke="#0a0af5" stroke-width="2.2" stroke-linejoin="round"/>
<rect x="111.2" y="226.6" width="9.6" height="9.6" fill="#0a0af5"/>
<rect x="165.9" y="226.5" width="9.6" height="9.6" fill="#0a0af5"/>
<rect x="220.5" y="226.4" width="9.6" height="9.6" fill="#0a0af5"/>
<rect x="275.2" y="225.5" width="9.6" height="9.6" fill="#0a0af5"/>
<rect x="329.9" y="218.9" width="9.6" height="9.6" fill="#0a0af5"/>
<rect x="384.6" y="192.9" width="9.6" height="9.6" fill="#0a0af5"/>
<rect x="439.2" y="123.9" width="9.6" height="9.6" fill="#0a0af5"/>
<rect x="493.9" y="16.2" width="9.6" height="9.6" fill="#0a0af5"/>
<rect x="548.6" y="17.2" width="9.6" height="9.6" fill="#0a0af5"/>
<rect x="603.2" y="132.7" width="9.6" height="9.6" fill="#0a0af5"/>
<text x="118.2" y="225.2" font-size="18" text-anchor="middle" fill="#000">0.11</text>
<text x="175.4" y="225.2" font-size="18" text-anchor="middle" fill="#000">0.12</text>
<text x="230.3" y="225.1" font-size="18" text-anchor="middle" fill="#000">0.15</text>
<text x="284" y="224.5" font-size="18" text-anchor="middle" fill="#000">0.31</text>
<text x="337.4" y="218.2" font-size="18" text-anchor="middle" fill="#000">1.50</text>
<text x="393.9" y="192.2" font-size="18" text-anchor="middle" fill="#000">6.22</text>
<text x="445.4" y="123.9" font-size="18" text-anchor="middle" fill="#000">18.72</text>
<text x="501.5" y="17.3" font-size="18" text-anchor="middle" fill="#000">38.26</text>
<text x="562.9" y="17.3" font-size="18" text-anchor="middle" fill="#000">38.08</text>
<text x="607.5" y="132.6" font-size="18" text-anchor="middle" fill="#000">17.13</text>
<text x="246.8" y="318.6" font-size="27.9"><tspan font-weight="bold">(a)</tspan> Fluid domain</text>
</g>
<g id="chartB">
<rect x="109.4" y="575.6" width="42.6" height="2.0" fill="#cb0909" stroke="#000" stroke-width="1"/>
<rect x="162.4" y="574.2" width="42.6" height="3.4" fill="#cb0909" stroke="#000" stroke-width="1"/>
<rect x="215.7" y="571.2" width="42.6" height="6.4" fill="#cb0909" stroke="#000" stroke-width="1"/>
<rect x="266.9" y="566.9" width="42.6" height="10.7" fill="#cb0909" stroke="#000" stroke-width="1"/>
<rect x="320.6" y="564.0" width="42.6" height="13.6" fill="#cb0909" stroke="#000" stroke-width="1"/>
<rect x="373.4" y="554.1" width="42.6" height="23.5" fill="#cb0909" stroke="#000" stroke-width="1"/>
<rect x="426.7" y="524.7" width="42.6" height="52.9" fill="#cb0909" stroke="#000" stroke-width="1"/>
<rect x="478.5" y="453.7" width="42.6" height="123.9" fill="#cb0909" stroke="#000" stroke-width="1"/>
<rect x="531.0" y="357.4" width="42.6" height="220.2" fill="#cb0909" stroke="#000" stroke-width="1"/>
<rect x="586.4" y="414.5" width="42.6" height="163.1" fill="#cb0909" stroke="#000" stroke-width="1"/>
<g id="insetB">
<path d="M178.8,337.4H189.6V398.8H178.8z" fill="#9a9762" stroke="#111" stroke-width="0.7"/><path d="M178.8,337.4H189.6V398.8H178.8z" fill="url(#mesh)" opacity="0.6"/>
<path d="M189.6,352.3H210.6V382.5H189.6z" fill="#9a9762" stroke="#111" stroke-width="0.7"/><path d="M189.6,352.3H210.6V382.5H189.6z" fill="url(#mesh)" opacity="0.6"/>
<path d="M210.6,337.4H242.4V397.8H210.6z" fill="#9a9762" stroke="#111" stroke-width="0.7"/><path d="M210.6,337.4H242.4V397.8H210.6z" fill="url(#mesh)" opacity="0.6"/>
<path d="M242.2,337.4H335.2V398.3H242.2z" fill="#84aea6" stroke="#111" stroke-width="0.7"/><path d="M242.2,337.4H335.2V398.3H242.2z" fill="url(#meshL)" opacity="0.7"/>
<path d="M335.2,341H346.2V393H335.2z" fill="#84aea6" stroke="#111" stroke-width="0.7"/><path d="M335.2,341H346.2V393H335.2z" fill="url(#meshL)" opacity="0.7"/>
<rect x="178.8" y="337.4" width="167.4" height="61.4" fill="url(#cylV2)"/>
<rect x="189.6" y="337" width="21" height="15.3" fill="#fff"/><rect x="189.6" y="382.5" width="21" height="17" fill="#fff"/>
<rect x="335.3" y="336.5" width="11.5" height="4.4" fill="#fff"/><rect x="335.3" y="393.1" width="11.5" height="6" fill="#fff"/>
<path d="M346.2,357H393V378H346.2z" fill="#0a0a0a"/><path d="M346.2,357H393V378H346.2z" fill="#484848" filter="url(#spk2)"/>
<polygon points="193.8,397.5 181.8,411.9 178.9,409.6 175.7,422.5 187.8,416.9 185.0,414.6 197.0,400.1" fill="#000"/>
<polygon points="225.9,405.2 220.5,414.4 217.4,412.6 216.4,425.9 227.4,418.4 224.2,416.5 229.5,407.2" fill="#000"/>
<polygon points="263.7,404.4 263.7,414.7 260.1,414.7 265.8,426.7 271.6,414.7 267.9,414.7 267.9,404.4" fill="#000"/>
<polygon points="317.9,405.4 320.4,416.0 316.8,416.9 325.2,427.2 328.0,414.2 324.5,415.0 321.9,404.4" fill="#000"/>
<polygon points="363.1,399.3 375.7,412.2 373.1,414.7 385.6,419.3 381.3,406.7 378.7,409.2 366.1,396.3" fill="#000"/>
<g transform="rotate(10 160 445)">
<path d="M153,427 H186 A7,19 0 0 1 186,465 H153 A3,19 0 0 1 153,427z" fill="#a3a276" stroke="#111" stroke-width="0.7"/><path d="M153,427 H186 A7,19 0 0 1 186,465 H153 A3,19 0 0 1 153,427z" fill="url(#mesh)" opacity="0.6"/>
<path d="M139,434 H153 V455 H139z" fill="#8f8e66" stroke="#111" stroke-width="0.7"/><path d="M139,434 H153 V455 H139z" fill="url(#mesh)" opacity="0.6"/>
<ellipse cx="138" cy="443" rx="8.2" ry="20" fill="#a3a276" stroke="#111" stroke-width="0.7"/><ellipse cx="138" cy="443" rx="8.2" ry="20" fill="url(#mesh)" opacity="0.6"/>
<ellipse cx="135.8" cy="443" rx="6.6" ry="18.6" fill="#b4b388" opacity="0.8"/><ellipse cx="135.8" cy="443" rx="6.6" ry="18.6" fill="url(#mesh)" opacity="0.5"/>
<ellipse cx="186" cy="446" rx="6.2" ry="17" fill="#6a6946" stroke="#111" stroke-width="0.7"/><ellipse cx="187" cy="446" rx="4.2" ry="13.5" fill="#a3a27a"/>
<path d="M150,427 H186 V465 H150z" fill="url(#cylV)" opacity="0.6"/>
</g>
<path d="M207,432 H226 A9.5,16.8 0 0 1 226,465.6 H207 A10.5,16.8 0 0 1 207,432z" fill="#1c1c1c"/><path d="M207,432 H226 A9.5,16.8 0 0 1 226,465.6 H207 A10.5,16.8 0 0 1 207,432z" fill="#7a7a7a" filter="url(#spk2)"/>
<ellipse cx="225" cy="448.8" rx="10" ry="16.6" fill="#4c4c4c"/><ellipse cx="225" cy="448.8" rx="10" ry="16.6" fill="#c8c8c8" filter="url(#spk2)"/>
<ellipse cx="224.5" cy="447.5" rx="4.8" ry="7.8" fill="#2c2c2c"/><ellipse cx="225.3" cy="447.5" rx="3" ry="5.5" fill="#4a4a4a"/>
<path d="M251,431.2 H270 A9.5,16.2 0 0 1 270,463.6 H251 A10,16.2 0 0 1 251,431.2z" fill="#a8953f" stroke="#111" stroke-width="0.7"/><path d="M251,431.2 H270 A9.5,16.2 0 0 1 270,463.6 H251 A10,16.2 0 0 1 251,431.2z" fill="url(#mesh)" opacity="0.55"/>
<ellipse cx="269.5" cy="447.4" rx="9.6" ry="16" fill="#b3a46a" stroke="#221" stroke-width="0.6"/><ellipse cx="269.5" cy="447.4" rx="9.6" ry="16" fill="url(#mesh)" opacity="0.45"/>
<ellipse cx="270" cy="445" rx="4.6" ry="8" fill="#5e5226"/><ellipse cx="271" cy="445" rx="2.6" ry="5" fill="#8c7d45"/>
<g transform="rotate(6 320 447)">
<path d="M292,434 H326 Q331,434 333,440 H361 Q364.5,448 361,456.5 H333 Q331,461 326,461 H292 A6,13.5 0 0 1 292,434z" fill="#1c1c1c"/><path d="M292,434 H326 Q331,434 333,440 H361 Q364.5,448 361,456.5 H333 Q331,461 326,461 H292 A6,13.5 0 0 1 292,434z" fill="#808080" filter="url(#spk2)"/>
<ellipse cx="292.5" cy="447.5" rx="4.4" ry="8.5" fill="#1c1c1c"/><ellipse cx="293.5" cy="447.5" rx="2.4" ry="4.8" fill="#6a6a6a"/>
<path d="M304,435 Q301,447 304,460" stroke="#000" stroke-width="0.8" fill="none" opacity="0.7"/>
</g>
<path d="M381,421.5 L428,419.8 Q442.5,421 442.5,440 Q442.5,458 430,459.5 L385,465.5 z" fill="#9cc2b8" stroke="#111" stroke-width="0.7"/><path d="M381,421.5 L428,419.8 Q442.5,421 442.5,440 Q442.5,458 430,459.5 L385,465.5 z" fill="url(#mesh)" opacity="0.55"/>
<ellipse cx="380.8" cy="443" rx="15" ry="22.5" fill="#5e7f78" stroke="#111" stroke-width="0.8" transform="rotate(-6 380.8 443)"/><ellipse cx="380.8" cy="443" rx="15" ry="22.5" fill="url(#mesh)" opacity="0.6" transform="rotate(-6 380.8 443)"/>
<ellipse cx="383.5" cy="442" rx="9.5" ry="15.5" fill="#86a89f" opacity="0.75" transform="rotate(-6 383.5 442)"/>
<text x="140.8" y="486.3" font-size="14.6" text-anchor="middle">End Cap</text>
<text x="140.6" y="502.8" font-size="14.6" text-anchor="middle">of sealing</text>
<text x="207.8" y="487" font-size="14.6" text-anchor="middle">Valve Seat</text>
<text x="206" y="503.5" font-size="14.6" text-anchor="middle">of sealing</text>
<text x="285" y="487" font-size="14.6" text-anchor="middle">Guide sleeve</text>
<text x="284.8" y="503.5" font-size="14.6" text-anchor="middle">of sealing</text>
<text x="358" y="487.6" font-size="14.6" text-anchor="middle">Rotation</text>
<text x="357.8" y="503.4" font-size="14.6" text-anchor="middle">axis</text>
<text x="419.2" y="481.5" font-size="14.6" text-anchor="middle">Shell of</text>
<text x="419.1" y="498.6" font-size="14.6" text-anchor="middle">sealing</text>
</g>
<rect x="104.6" y="334.2" width="533.1" height="243.40000000000003" fill="none" stroke="#000" stroke-width="1.8"/>
<line x1="95.1" y1="577.6" x2="104.6" y2="577.6" stroke="#000" stroke-width="1.8"/>
<text x="94" y="583.7" font-size="18" text-anchor="end" fill="#000">0</text>
<line x1="95.1" y1="532.9" x2="104.6" y2="532.9" stroke="#000" stroke-width="1.8"/>
<text x="94" y="539.0" font-size="18" text-anchor="end" fill="#000">50</text>
<line x1="95.1" y1="488.1" x2="104.6" y2="488.1" stroke="#000" stroke-width="1.8"/>
<text x="94" y="494.2" font-size="18" text-anchor="end" fill="#000">100</text>
<line x1="95.1" y1="443.4" x2="104.6" y2="443.4" stroke="#000" stroke-width="1.8"/>
<text x="94" y="449.5" font-size="18" text-anchor="end" fill="#000">150</text>
<line x1="95.1" y1="398.6" x2="104.6" y2="398.6" stroke="#000" stroke-width="1.8"/>
<text x="94" y="404.7" font-size="18" text-anchor="end" fill="#000">200</text>
<line x1="95.1" y1="353.9" x2="104.6" y2="353.9" stroke="#000" stroke-width="1.8"/>
<text x="94" y="360.0" font-size="18" text-anchor="end" fill="#000">250</text>
<line x1="131.3" y1="577.6" x2="131.3" y2="587.1" stroke="#000" stroke-width="1.8"/>
<text x="135.9" y="607.2" font-size="18" text-anchor="middle" fill="#000">0.1</text>
<line x1="186.4" y1="577.6" x2="186.4" y2="587.1" stroke="#000" stroke-width="1.8"/>
<text x="191.0" y="607.2" font-size="18" text-anchor="middle" fill="#000">0.2</text>
<line x1="241.5" y1="577.6" x2="241.5" y2="587.1" stroke="#000" stroke-width="1.8"/>
<text x="246.1" y="607.2" font-size="18" text-anchor="middle" fill="#000">0.3</text>
<line x1="296.6" y1="577.6" x2="296.6" y2="587.1" stroke="#000" stroke-width="1.8"/>
<text x="301.2" y="607.2" font-size="18" text-anchor="middle" fill="#000">0.4</text>
<line x1="351.7" y1="577.6" x2="351.7" y2="587.1" stroke="#000" stroke-width="1.8"/>
<text x="356.3" y="607.2" font-size="18" text-anchor="middle" fill="#000">0.5</text>
<line x1="406.8" y1="577.6" x2="406.8" y2="587.1" stroke="#000" stroke-width="1.8"/>
<text x="411.4" y="607.2" font-size="18" text-anchor="middle" fill="#000">0.6</text>
<line x1="461.9" y1="577.6" x2="461.9" y2="587.1" stroke="#000" stroke-width="1.8"/>
<text x="466.5" y="607.2" font-size="18" text-anchor="middle" fill="#000">0.7</text>
<line x1="517.0" y1="577.6" x2="517.0" y2="587.1" stroke="#000" stroke-width="1.8"/>
<text x="521.6" y="607.2" font-size="18" text-anchor="middle" fill="#000">0.8</text>
<line x1="572.1" y1="577.6" x2="572.1" y2="587.1" stroke="#000" stroke-width="1.8"/>
<text x="576.7" y="607.2" font-size="18" text-anchor="middle" fill="#000">0.9</text>
<line x1="627.2" y1="577.6" x2="627.2" y2="587.1" stroke="#000" stroke-width="1.8"/>
<text x="631.8" y="607.2" font-size="18" text-anchor="middle" fill="#000">1.0</text>
<text x="380.8" y="625.2" font-size="18.6" text-anchor="middle" fill="#000">Mesh quality</text>
<text x="54.7" y="461" font-size="18" text-anchor="middle" fill="#000" transform="rotate(-90 54.7 461)">Number of grids(k)</text>
<path d="M130.7,575.6 L133.1,575.5 L135.5,575.5 L137.9,575.4 L140.3,575.4 L142.7,575.3 L145.1,575.3 L147.5,575.2 L149.9,575.2 L152.3,575.1 L154.7,575.1 L157.1,575.0 L159.5,574.9 L161.9,574.9 L164.3,574.8 L166.7,574.7 L169.1,574.7 L171.4,574.6 L173.8,574.5 L176.2,574.4 L178.6,574.4 L181.0,574.3 L183.4,574.2 L185.8,574.1 L188.2,574.0 L190.6,573.9 L193.0,573.8 L195.4,573.7 L197.8,573.6 L200.2,573.5 L202.6,573.4 L205.0,573.3 L207.4,573.1 L209.8,573.0 L212.2,572.9 L214.6,572.7 L217.0,572.6 L219.4,572.4 L221.8,572.3 L224.2,572.1 L226.6,572.0 L229.0,571.8 L231.4,571.6 L233.8,571.4 L236.2,571.2 L238.6,571.1 L241.0,570.9 L243.4,570.7 L245.8,570.4 L248.2,570.2 L250.5,570.0 L252.9,569.8 L255.3,569.6 L257.7,569.4 L260.1,569.1 L262.5,568.9 L264.9,568.7 L267.3,568.5 L269.7,568.3 L272.1,568.1 L274.5,567.9 L276.9,567.7 L279.3,567.5 L281.7,567.3 L284.1,567.2 L286.5,567.0 L288.9,566.9 L291.3,566.7 L293.7,566.6 L296.1,566.5 L298.5,566.4 L300.9,566.3 L303.3,566.1 L305.7,566.0 L308.1,565.9 L310.5,565.8 L312.9,565.7 L315.3,565.6 L317.7,565.5 L320.1,565.4 L322.5,565.3 L324.9,565.2 L327.3,565.1 L329.6,564.9 L332.0,564.8 L334.4,564.6 L336.8,564.4 L339.2,564.3 L341.6,564.1 L344.0,563.9 L346.4,563.6 L348.8,563.4 L351.2,563.1 L353.6,562.8 L356.0,562.5 L358.4,562.2 L360.8,561.8 L363.2,561.5 L365.6,561.1 L368.0,560.7 L370.4,560.2 L372.8,559.7 L375.2,559.3 L377.6,558.7 L380.0,558.2 L382.4,557.6 L384.8,557.0 L387.2,556.3 L389.6,555.7 L392.0,554.9 L394.4,554.2 L396.8,553.4 L399.2,552.6 L401.6,551.8 L404.0,550.9 L406.4,549.9 L408.8,548.9 L411.1,547.9 L413.5,546.8 L415.9,545.7 L418.3,544.5 L420.7,543.3 L423.1,542.0 L425.5,540.6 L427.9,539.2 L430.3,537.7 L432.7,536.2 L435.1,534.6 L437.5,532.9 L439.9,531.2 L442.3,529.3 L444.7,527.4 L447.1,525.4 L449.5,523.4 L451.9,521.2 L454.3,519.0 L456.7,516.7 L459.1,514.3 L461.5,511.8 L463.9,509.1 L466.3,506.4 L468.7,503.5 L471.1,500.5 L473.5,497.4 L475.9,494.2 L478.3,490.8 L480.7,487.3 L483.1,483.7 L485.5,479.9 L487.9,475.9 L490.2,471.8 L492.6,467.5 L495.0,463.0 L497.4,458.4 L499.8,453.6 L502.2,448.6 L504.6,443.5 L507.0,438.2 L509.4,432.9 L511.8,427.5 L514.2,422.1 L516.6,416.6 L519.0,411.3 L521.4,405.9 L523.8,400.7 L526.2,395.6 L528.6,390.7 L531.0,386.0 L533.4,381.5 L535.8,377.2 L538.2,373.3 L540.6,369.6 L543.0,366.3 L545.4,363.4 L547.8,360.9 L550.2,358.8 L552.6,357.2 L555.0,356.1 L557.4,355.5 L559.8,355.4 L562.2,355.6 L564.6,356.3 L567.0,357.4 L569.3,358.9 L571.7,360.7 L574.1,362.8 L576.5,365.2 L578.9,367.9 L581.3,370.9 L583.7,374.1 L586.1,377.5 L588.5,381.1 L590.9,384.9 L593.3,388.9 L595.7,392.9 L598.1,397.1 L600.5,401.4 L602.9,405.7 L605.3,410.1 L607.7,414.5" fill="none" stroke="#0a0af5" stroke-width="2.2" stroke-linejoin="round"/>
<rect x="125.9" y="570.8" width="9.6" height="9.6" fill="#0a0af5"/>
<rect x="178.9" y="569.4" width="9.6" height="9.6" fill="#0a0af5"/>
<rect x="232.2" y="566.4" width="9.6" height="9.6" fill="#0a0af5"/>
<rect x="283.4" y="562.1" width="9.6" height="9.6" fill="#0a0af5"/>
<rect x="337.1" y="559.2" width="9.6" height="9.6" fill="#0a0af5"/>
<rect x="389.9" y="549.3" width="9.6" height="9.6" fill="#0a0af5"/>
<rect x="443.2" y="519.9" width="9.6" height="9.6" fill="#0a0af5"/>
<rect x="495.0" y="448.9" width="9.6" height="9.6" fill="#0a0af5"/>
<rect x="547.5" y="352.6" width="9.6" height="9.6" fill="#0a0af5"/>
<rect x="602.9" y="409.7" width="9.6" height="9.6" fill="#0a0af5"/>
<text x="133.9" y="570.4" font-size="17.4" text-anchor="middle" fill="#000">2.24</text>
<text x="183.6" y="568.5" font-size="17.4" text-anchor="middle" fill="#000">3.81</text>
<text x="237.8" y="564.5" font-size="17.4" text-anchor="middle" fill="#000">7.17</text>
<text x="288.6" y="561.3" font-size="17.4" text-anchor="middle" fill="#000">11.94</text>
<text x="342" y="558.1" font-size="17.4" text-anchor="middle" fill="#000">15.15</text>
<text x="395.5" y="545.2" font-size="17.4" text-anchor="middle" fill="#000">26.26</text>
<text x="451.3" y="518" font-size="17.4" text-anchor="middle" fill="#000">59.12</text>
<text x="501.4" y="446" font-size="17.4" text-anchor="middle" fill="#000">138.46</text>
<text x="553.6" y="349.6" font-size="17.4" text-anchor="middle" fill="#000">246.04</text>
<text x="607.9" y="407.5" font-size="17.4" text-anchor="middle" fill="#000">182.20</text>
<text x="246.4" y="671.5" font-size="28"><tspan font-weight="bold">(b)</tspan> Solid domain</text>
</g>
<g id="chartC">
<g id="insetC">
<defs><pattern id="meshC" width="18.00" height="16.00" patternUnits="userSpaceOnUse"><path d="M-1.4,-2.8L0.7,-3.0M-1.4,-2.8L-0.1,0.1M-1.4,-2.8L-3.8,-0.3M-3.8,-0.3L-0.1,0.1M-3.8,-0.3L-0.6,3.1M-3.8,-0.3L-5.5,2.2M-0.6,3.1L2.3,2.6M-0.6,3.1L0.0,5.5M-0.6,3.1L-3.7,4.9M-3.7,4.9L0.0,5.5M-3.7,4.9L-2.3,7.2M-3.7,4.9L-3.6,7.8M-2.3,7.2L0.9,8.0M-2.3,7.2L0.2,11.2M-2.3,7.2L-2.4,10.1M-2.4,10.1L0.2,11.2M-2.4,10.1L-1.4,13.2M-2.4,10.1L-4.0,12.9M-1.4,13.2L0.7,13.0M-1.4,13.2L-0.1,16.1M-1.4,13.2L-3.8,15.7M-3.8,15.7L-0.1,16.1M-3.8,15.7L-0.6,19.1M-3.8,15.7L-5.5,18.2M0.7,-3.0L4.6,-3.4M0.7,-3.0L2.2,0.5M0.7,-3.0L-0.1,0.1M-0.1,0.1L2.2,0.5M-0.1,0.1L2.3,2.6M-0.1,0.1L-0.6,3.1M2.3,2.6L4.9,1.9M2.3,2.6L3.9,6.1M2.3,2.6L0.0,5.5M0.0,5.5L3.9,6.1M0.0,5.5L0.9,8.0M0.0,5.5L-2.3,7.2M0.9,8.0L4.8,8.2M0.9,8.0L2.3,9.8M0.9,8.0L0.2,11.2M0.2,11.2L2.3,9.8M0.2,11.2L0.7,13.0M0.2,11.2L-1.4,13.2M0.7,13.0L4.6,12.6M0.7,13.0L2.2,16.5M0.7,13.0L-0.1,16.1M-0.1,16.1L2.2,16.5M-0.1,16.1L2.3,18.6M-0.1,16.1L-0.6,19.1M4.6,-3.4L7.4,-3.0M4.6,-3.4L5.4,-0.4M4.6,-3.4L2.2,0.5M2.2,0.5L5.4,-0.4M2.2,0.5L4.9,1.9M2.2,0.5L2.3,2.6M4.9,1.9L6.6,2.6M4.9,1.9L5.9,5.9M4.9,1.9L3.9,6.1M3.9,6.1L5.9,5.9M3.9,6.1L4.8,8.2M3.9,6.1L0.9,8.0M4.8,8.2L7.5,8.2M4.8,8.2L6.0,10.9M4.8,8.2L2.3,9.8M2.3,9.8L6.0,10.9M2.3,9.8L4.6,12.6M2.3,9.8L0.7,13.0M4.6,12.6L7.4,13.0M4.6,12.6L5.4,15.6M4.6,12.6L2.2,16.5M2.2,16.5L5.4,15.6M2.2,16.5L4.9,17.9M2.2,16.5L2.3,18.6M7.4,-3.0L11.2,-2.9M7.4,-3.0L10.0,0.8M7.4,-3.0L5.4,-0.4M5.4,-0.4L10.0,0.8M5.4,-0.4L6.6,2.6M5.4,-0.4L4.9,1.9M6.6,2.6L11.2,3.0M6.6,2.6L8.6,4.9M6.6,2.6L5.9,5.9M5.9,5.9L8.6,4.9M5.9,5.9L7.5,8.2M5.9,5.9L4.8,8.2M7.5,8.2L10.1,7.3M7.5,8.2L9.5,10.5M7.5,8.2L6.0,10.9M6.0,10.9L9.5,10.5M6.0,10.9L7.4,13.0M6.0,10.9L4.6,12.6M7.4,13.0L11.2,13.1M7.4,13.0L10.0,16.8M7.4,13.0L5.4,15.6M5.4,15.6L10.0,16.8M5.4,15.6L6.6,18.6M5.4,15.6L4.9,17.9M11.2,-2.9L14.0,-3.1M11.2,-2.9L12.9,0.6M11.2,-2.9L10.0,0.8M10.0,0.8L12.9,0.6M10.0,0.8L11.2,3.0M10.0,0.8L6.6,2.6M11.2,3.0L12.5,2.2M11.2,3.0L12.8,5.3M11.2,3.0L8.6,4.9M8.6,4.9L12.8,5.3M8.6,4.9L10.1,7.3M8.6,4.9L7.5,8.2M10.1,7.3L14.4,7.8M10.1,7.3L11.2,10.9M10.1,7.3L9.5,10.5M9.5,10.5L11.2,10.9M9.5,10.5L11.2,13.1M9.5,10.5L7.4,13.0M11.2,13.1L14.0,12.9M11.2,13.1L12.9,16.6M11.2,13.1L10.0,16.8M10.0,16.8L12.9,16.6M10.0,16.8L11.2,19.0M10.0,16.8L6.6,18.6M14.0,-3.1L16.6,-2.8M14.0,-3.1L14.2,-0.3M14.0,-3.1L12.9,0.6M12.9,0.6L14.2,-0.3M12.9,0.6L12.5,2.2M12.9,0.6L11.2,3.0M12.5,2.2L17.4,3.1M12.5,2.2L14.3,4.9M12.5,2.2L12.8,5.3M12.8,5.3L14.3,4.9M12.8,5.3L14.4,7.8M12.8,5.3L10.1,7.3M14.4,7.8L15.7,7.2M14.4,7.8L15.6,10.1M14.4,7.8L11.2,10.9M11.2,10.9L15.6,10.1M11.2,10.9L14.0,12.9M11.2,10.9L11.2,13.1M14.0,12.9L16.6,13.2M14.0,12.9L14.2,15.7M14.0,12.9L12.9,16.6M12.9,16.6L14.2,15.7M12.9,16.6L12.5,18.2M12.9,16.6L11.2,19.0M16.6,-2.8L18.7,-3.0M16.6,-2.8L17.9,0.1M16.6,-2.8L14.2,-0.3M14.2,-0.3L17.9,0.1M14.2,-0.3L17.4,3.1M14.2,-0.3L12.5,2.2M17.4,3.1L20.3,2.6M17.4,3.1L18.0,5.5M17.4,3.1L14.3,4.9M14.3,4.9L18.0,5.5M14.3,4.9L15.7,7.2M14.3,4.9L14.4,7.8M15.7,7.2L18.9,8.0M15.7,7.2L18.2,11.2M15.7,7.2L15.6,10.1M15.6,10.1L18.2,11.2M15.6,10.1L16.6,13.2M15.6,10.1L14.0,12.9M16.6,13.2L18.7,13.0M16.6,13.2L17.9,16.1M16.6,13.2L14.2,15.7M14.2,15.7L17.9,16.1M14.2,15.7L17.4,19.1M14.2,15.7L12.5,18.2M18.7,-3.0L22.6,-3.4M18.7,-3.0L20.2,0.5M18.7,-3.0L17.9,0.1M17.9,0.1L20.2,0.5M17.9,0.1L20.3,2.6M17.9,0.1L17.4,3.1M20.3,2.6L22.9,1.9M20.3,2.6L21.9,6.1M20.3,2.6L18.0,5.5M18.0,5.5L21.9,6.1M18.0,5.5L18.9,8.0M18.0,5.5L15.7,7.2M18.9,8.0L22.8,8.2M18.9,8.0L20.3,9.8M18.9,8.0L18.2,11.2M18.2,11.2L20.3,9.8M18.2,11.2L18.7,13.0M18.2,11.2L16.6,13.2M18.7,13.0L22.6,12.6M18.7,13.0L20.2,16.5M18.7,13.0L17.9,16.1M17.9,16.1L20.2,16.5M17.9,16.1L20.3,18.6M17.9,16.1L17.4,19.1" stroke="#000" stroke-width="0.6" fill="none"/></pattern><pattern id="meshS" width="14.00" height="12.00" patternUnits="userSpaceOnUse"><path d="M-1.6,-1.7L1.3,-1.8M-1.6,-1.7L-0.0,0.2M-1.6,-1.7L-3.0,0.4M-3.0,0.4L-0.0,0.2M-3.0,0.4L-1.3,2.0M-3.0,0.4L-3.7,1.8M-1.3,2.0L1.4,1.5M-1.3,2.0L-0.7,3.8M-1.3,2.0L-2.7,3.9M-2.7,3.9L-0.7,3.8M-2.7,3.9L-1.3,6.3M-2.7,3.9L-4.1,5.7M-1.3,6.3L0.8,6.4M-1.3,6.3L0.3,8.1M-1.3,6.3L-2.9,8.1M-2.9,8.1L0.3,8.1M-2.9,8.1L-1.6,10.3M-2.9,8.1L-3.0,10.0M-1.6,10.3L1.3,10.2M-1.6,10.3L-0.0,12.2M-1.6,10.3L-3.0,12.4M-3.0,12.4L-0.0,12.2M-3.0,12.4L-1.3,14.0M-3.0,12.4L-3.7,13.8M1.3,-1.8L4.0,-2.6M1.3,-1.8L1.8,-0.1M1.3,-1.8L-0.0,0.2M-0.0,0.2L1.8,-0.1M-0.0,0.2L1.4,1.5M-0.0,0.2L-1.3,2.0M1.4,1.5L3.0,2.5M1.4,1.5L1.7,4.4M1.4,1.5L-0.7,3.8M-0.7,3.8L1.7,4.4M-0.7,3.8L0.8,6.4M-0.7,3.8L-1.3,6.3M0.8,6.4L2.9,6.2M0.8,6.4L2.1,7.9M0.8,6.4L0.3,8.1M0.3,8.1L2.1,7.9M0.3,8.1L1.3,10.2M0.3,8.1L-1.6,10.3M1.3,10.2L4.0,9.4M1.3,10.2L1.8,11.9M1.3,10.2L-0.0,12.2M-0.0,12.2L1.8,11.9M-0.0,12.2L1.4,13.5M-0.0,12.2L-1.3,14.0M4.0,-2.6L6.0,-2.4M4.0,-2.6L4.0,0.5M4.0,-2.6L1.8,-0.1M1.8,-0.1L4.0,0.5M1.8,-0.1L3.0,2.5M1.8,-0.1L1.4,1.5M3.0,2.5L5.8,1.5M3.0,2.5L5.4,4.6M3.0,2.5L1.7,4.4M1.7,4.4L5.4,4.6M1.7,4.4L2.9,6.2M1.7,4.4L0.8,6.4M2.9,6.2L5.3,5.9M2.9,6.2L4.1,7.8M2.9,6.2L2.1,7.9M2.1,7.9L4.1,7.8M2.1,7.9L4.0,9.4M2.1,7.9L1.3,10.2M4.0,9.4L6.0,9.6M4.0,9.4L4.0,12.5M4.0,9.4L1.8,11.9M1.8,11.9L4.0,12.5M1.8,11.9L3.0,14.5M1.8,11.9L1.4,13.5M6.0,-2.4L8.5,-1.4M6.0,-2.4L7.3,-0.6M6.0,-2.4L4.0,0.5M4.0,0.5L7.3,-0.6M4.0,0.5L5.8,1.5M4.0,0.5L3.0,2.5M5.8,1.5L7.7,2.4M5.8,1.5L6.9,3.9M5.8,1.5L5.4,4.6M5.4,4.6L6.9,3.9M5.4,4.6L5.3,5.9M5.4,4.6L2.9,6.2M5.3,5.9L8.3,6.0M5.3,5.9L6.8,7.4M5.3,5.9L4.1,7.8M4.1,7.8L6.8,7.4M4.1,7.8L6.0,9.6M4.1,7.8L4.0,9.4M6.0,9.6L8.5,10.6M6.0,9.6L7.3,11.4M6.0,9.6L4.0,12.5M4.0,12.5L7.3,11.4M4.0,12.5L5.8,13.5M4.0,12.5L3.0,14.5M8.5,-1.4L11.0,-2.0M8.5,-1.4L10.0,0.2M8.5,-1.4L7.3,-0.6M7.3,-0.6L10.0,0.2M7.3,-0.6L7.7,2.4M7.3,-0.6L5.8,1.5M7.7,2.4L10.3,1.8M7.7,2.4L9.6,4.2M7.7,2.4L6.9,3.9M6.9,3.9L9.6,4.2M6.9,3.9L8.3,6.0M6.9,3.9L5.3,5.9M8.3,6.0L9.9,5.7M8.3,6.0L9.1,8.0M8.3,6.0L6.8,7.4M6.8,7.4L9.1,8.0M6.8,7.4L8.5,10.6M6.8,7.4L6.0,9.6M8.5,10.6L11.0,10.0M8.5,10.6L10.0,12.2M8.5,10.6L7.3,11.4M7.3,11.4L10.0,12.2M7.3,11.4L7.7,14.4M7.3,11.4L5.8,13.5M11.0,-2.0L12.4,-1.7M11.0,-2.0L11.0,0.4M11.0,-2.0L10.0,0.2M10.0,0.2L11.0,0.4M10.0,0.2L10.3,1.8M10.0,0.2L7.7,2.4M10.3,1.8L12.7,2.0M10.3,1.8L11.3,3.9M10.3,1.8L9.6,4.2M9.6,4.2L11.3,3.9M9.6,4.2L9.9,5.7M9.6,4.2L8.3,6.0M9.9,5.7L12.7,6.3M9.9,5.7L11.1,8.1M9.9,5.7L9.1,8.0M9.1,8.0L11.1,8.1M9.1,8.0L11.0,10.0M9.1,8.0L8.5,10.6M11.0,10.0L12.4,10.3M11.0,10.0L11.0,12.4M11.0,10.0L10.0,12.2M10.0,12.2L11.0,12.4M10.0,12.2L10.3,13.8M10.0,12.2L7.7,14.4M12.4,-1.7L15.3,-1.8M12.4,-1.7L14.0,0.2M12.4,-1.7L11.0,0.4M11.0,0.4L14.0,0.2M11.0,0.4L12.7,2.0M11.0,0.4L10.3,1.8M12.7,2.0L15.4,1.5M12.7,2.0L13.3,3.8M12.7,2.0L11.3,3.9M11.3,3.9L13.3,3.8M11.3,3.9L12.7,6.3M11.3,3.9L9.9,5.7M12.7,6.3L14.8,6.4M12.7,6.3L14.3,8.1M12.7,6.3L11.1,8.1M11.1,8.1L14.3,8.1M11.1,8.1L12.4,10.3M11.1,8.1L11.0,10.0M12.4,10.3L15.3,10.2M12.4,10.3L14.0,12.2M12.4,10.3L11.0,12.4M11.0,12.4L14.0,12.2M11.0,12.4L12.7,14.0M11.0,12.4L10.3,13.8M15.3,-1.8L18.0,-2.6M15.3,-1.8L15.8,-0.1M15.3,-1.8L14.0,0.2M14.0,0.2L15.8,-0.1M14.0,0.2L15.4,1.5M14.0,0.2L12.7,2.0M15.4,1.5L17.0,2.5M15.4,1.5L15.7,4.4M15.4,1.5L13.3,3.8M13.3,3.8L15.7,4.4M13.3,3.8L14.8,6.4M13.3,3.8L12.7,6.3M14.8,6.4L16.9,6.2M14.8,6.4L16.1,7.9M14.8,6.4L14.3,8.1M14.3,8.1L16.1,7.9M14.3,8.1L15.3,10.2M14.3,8.1L12.4,10.3M15.3,10.2L18.0,9.4M15.3,10.2L15.8,11.9M15.3,10.2L14.0,12.2M14.0,12.2L15.8,11.9M14.0,12.2L15.4,13.5M14.0,12.2L12.7,14.0" stroke="#000" stroke-width="0.6" fill="none"/></pattern>
<linearGradient id="fluidBar" x1="0" y1="0" x2="1" y2="0">
<stop offset="0" stop-color="#1414f0"/><stop offset="0.12" stop-color="#1a55ee"/><stop offset="0.25" stop-color="#20a4e6"/><stop offset="0.36" stop-color="#2fe0c0"/><stop offset="0.46" stop-color="#7df070"/><stop offset="0.55" stop-color="#c8f050"/><stop offset="0.64" stop-color="#f6d23a"/><stop offset="0.75" stop-color="#fb9426"/><stop offset="0.87" stop-color="#ee4a18"/><stop offset="1" stop-color="#c21010"/>
</linearGradient>
<linearGradient id="pipeThin" x1="0" y1="2" x2="151" y2="-6" gradientUnits="userSpaceOnUse">
<stop offset="0" stop-color="#f0501c"/><stop offset="0.085" stop-color="#f08a30"/><stop offset="0.105" stop-color="#c8e040"/><stop offset="0.125" stop-color="#30d0c0"/><stop offset="0.15" stop-color="#2030f0"/><stop offset="0.27" stop-color="#1a40ff"/><stop offset="0.36" stop-color="#1c98e8"/><stop offset="0.46" stop-color="#22d0a0"/><stop offset="0.58" stop-color="#3cdc5c"/><stop offset="0.8" stop-color="#60e24e"/><stop offset="1" stop-color="#98e844"/>
</linearGradient>
<linearGradient id="pipeThick" x1="151" y1="0" x2="423" y2="0" gradientUnits="userSpaceOnUse">
<stop offset="0" stop-color="#b0ea40"/><stop offset="0.4" stop-color="#d4ee3c"/><stop offset="1" stop-color="#e8ea3c"/>
</linearGradient>
<linearGradient id="shadeP" x1="0" y1="0" x2="0" y2="1"><stop offset="0" stop-color="#000" stop-opacity="0.12"/><stop offset="0.3" stop-color="#fff" stop-opacity="0.05"/><stop offset="0.7" stop-color="#000" stop-opacity="0"/><stop offset="1" stop-color="#000" stop-opacity="0.22"/></linearGradient>
<linearGradient id="shadeS" x1="0" y1="0" x2="0" y2="1"><stop offset="0" stop-color="#000" stop-opacity="0.35"/><stop offset="0.25" stop-color="#000" stop-opacity="0.05"/><stop offset="0.5" stop-color="#2a2aff" stop-opacity="0.12"/><stop offset="0.8" stop-color="#000" stop-opacity="0.08"/><stop offset="1" stop-color="#000" stop-opacity="0.4"/></linearGradient>
<radialGradient id="holeG" cx="0.5" cy="0.5" r="0.5"><stop offset="0" stop-color="#50e090" stop-opacity="0.95"/><stop offset="0.45" stop-color="#22b4c8" stop-opacity="0.9"/><stop offset="0.75" stop-color="#1a60d8" stop-opacity="0.6"/><stop offset="1" stop-color="#0a0ad0" stop-opacity="0"/></radialGradient>
<radialGradient id="glowA" cx="0.5" cy="0.5" r="0.5"><stop offset="0" stop-color="#38d8b0" stop-opacity="0.95"/><stop offset="0.4" stop-color="#24b8d0" stop-opacity="0.9"/><stop offset="0.72" stop-color="#1c68e8" stop-opacity="0.6"/><stop offset="1" stop-color="#1414f4" stop-opacity="0"/></radialGradient>
<radialGradient id="glowB" cx="0.5" cy="0.5" r="0.5"><stop offset="0" stop-color="#80e860" stop-opacity="0.95"/><stop offset="0.5" stop-color="#50e080" stop-opacity="0.8"/><stop offset="1" stop-color="#30d0b0" stop-opacity="0"/></radialGradient>
<radialGradient id="glowC" cx="0.5" cy="0.5" r="0.5"><stop offset="0" stop-color="#1850e0" stop-opacity="0.8"/><stop offset="1" stop-color="#1850e0" stop-opacity="0"/></radialGradient>
<radialGradient id="tipG" cx="0.4" cy="0.45" r="0.6"><stop offset="0" stop-color="#f89038"/><stop offset="0.6" stop-color="#ee5a1e"/><stop offset="1" stop-color="#c03010"/></radialGradient>
<clipPath id="pipeClip"><path d="M2,-9.6 H151 V9.6 H2z M149,-10.8 H420 Q427,-10.8 427,0 Q427,12.4 420,12.4 H149z M388,10 H417 V26 Q417,32 402.5,32 Q388,32 388,26z M-4,-14.5 L15,-9.6 V9.6 H-3z" transform="translate(107.6 865.8) rotate(39.3)"/><ellipse cx="3.6" cy="0.6" rx="12.3" ry="11" transform="translate(107.6 865.8) rotate(39.3)"/></clipPath>
<clipPath id="solidClip"><path d="M0,-25.6H57V25.6H0z M57,-39.6H169V39.6H57z M163,-26H359V26H163z" transform="translate(342 754.5) rotate(45)"/></clipPath>
<clipPath id="shaftClip"><rect x="163" y="-26" width="196" height="52"/></clipPath>
</defs>
<g transform="translate(107.6 865.8) rotate(39.3)">
<path d="M2,-9.6 H151 V9.6 H2z" fill="url(#pipeThin)"/>
<path d="M149,-10.8 H420 Q427,-10.8 427,0 Q427,12.4 420,12.4 H149z" fill="url(#pipeThick)"/>
<path d="M388,10 H417 V26 Q417,32 402.5,32 Q388,32 388,26z" fill="#58d868"/>
<path d="M388,18 H417 V26 Q417,32 402.5,32 Q388,32 388,26z" fill="#20b8a0"/>
<rect x="2" y="-9.6" width="149" height="19.2" fill="url(#shadeP)"/>
<rect x="149" y="-10.8" width="276" height="23.2" fill="url(#shadeP)"/>
<path d="M2,-9.6 H149 V-10.8 H420 Q427,-10.8 427,0 Q427,12.4 420,12.4 H149 V9.6 H2" fill="none" stroke="#0a0a0a" stroke-width="0.9"/>
<path d="M-4,-14.5 L15,-9.6 V9.6 H-3z" fill="#e4501c"/>
<ellipse cx="3.6" cy="0.6" rx="12.3" ry="11" fill="url(#tipG)"/>
</g>
<rect x="90" y="840" width="365" height="320" fill="url(#meshC)" opacity="0.72" clip-path="url(#pipeClip)"/>
<g transform="translate(93.1 911.5) rotate(40.2)" font-weight="bold">
<rect x="0" y="0" width="388" height="8.5" fill="url(#fluidBar)"/>
<text x="0.0" y="-4.6" font-size="8.2" text-anchor="middle">3.0e+07</text>
<text x="38.8" y="-4.6" font-size="8.2" text-anchor="middle">3.3e+07</text>
<text x="77.6" y="-4.6" font-size="8.2" text-anchor="middle">3.6e+07</text>
<text x="116.4" y="-4.6" font-size="8.2" text-anchor="middle">3.9e+07</text>
<text x="155.2" y="-4.6" font-size="8.2" text-anchor="middle">4.2e+07</text>
<text x="194.0" y="-4.6" font-size="8.2" text-anchor="middle">4.5e+07</text>
<text x="232.8" y="-4.6" font-size="8.2" text-anchor="middle">4.7e+07</text>
<text x="271.6" y="-4.6" font-size="8.2" text-anchor="middle">5.0e+07</text>
<text x="310.4" y="-4.6" font-size="8.2" text-anchor="middle">5.3e+07</text>
<text x="349.2" y="-4.6" font-size="8.2" text-anchor="middle">5.6e+07</text>
<text x="388.0" y="-4.6" font-size="8.2" text-anchor="middle">5.9e+07</text>
<text x="-21" y="-25.5" font-size="8.0">fluid-domain</text>
<text x="-21" y="-16.6" font-size="8.0">Static Pressure [ Pa ]</text>
</g>
<text x="202.5" y="1036" font-size="15.2" transform="rotate(40 202.5 1036)">Size 1 mm</text>
<g transform="translate(342 754.5) rotate(45)">
<rect x="0" y="-25.6" width="60" height="51.2" fill="#1414f4"/>
<rect x="163" y="-26" width="196" height="52" fill="#1414f4"/>
<g clip-path="url(#shaftClip)">
<ellipse cx="232" cy="0" rx="100" ry="62" fill="url(#glowA)"/>
<ellipse cx="190" cy="0" rx="40" ry="40" fill="url(#glowA)" opacity="0.7"/>
<ellipse cx="208.5" cy="0" rx="13" ry="34" fill="url(#glowB)"/>
<ellipse cx="272" cy="1" rx="27" ry="29" fill="url(#glowB)"/>
<ellipse cx="239" cy="7" rx="9" ry="10" fill="url(#glowC)"/>
</g>
<ellipse cx="208.5" cy="-0.8" rx="3.0" ry="23" fill="#b8d838"/><ellipse cx="208.5" cy="-0.8" rx="1.4" ry="20" fill="#f07018"/>
<ellipse cx="267.4" cy="1.6" rx="11.8" ry="14.6" fill="#c8c030"/><ellipse cx="266.2" cy="2.8" rx="10.4" ry="12.8" fill="#e06818"/><ellipse cx="266.6" cy="0.6" rx="9.8" ry="12.4" fill="#34420f"/><ellipse cx="268.6" cy="0" rx="8.6" ry="11.4" fill="#c4e436"/>
<rect x="163" y="-26" width="196" height="52" fill="url(#shadeS)"/>
<rect x="57" y="-39.6" width="112" height="79.2" rx="2" fill="#1414f4"/>
<rect x="0" y="-25.6" width="57" height="51.2" fill="url(#shadeS)"/>
<rect x="57" y="-39.6" width="112" height="79.2" rx="2" fill="url(#shadeS)"/>
<path d="M0,-25.6 H57 M57,-39.6 H169 M169,-26 H359 V26" fill="none" stroke="#000010" stroke-width="1"/>
<path d="M22,-14 V18" stroke="#28a8a8" stroke-width="1.6" stroke-dasharray="2 3.5" opacity="0.7"/>
<path d="M58.5,-24 V22" stroke="#30c0a0" stroke-width="1.8" stroke-dasharray="2.5 2" opacity="0.9"/>
</g>
<rect x="300" y="730" width="330" height="310" fill="url(#meshS)" opacity="0.62" clip-path="url(#solidClip)"/>
<g transform="translate(342 754.5) rotate(45)"><rect x="200" y="3" width="4.5" height="8.5" fill="#ff2020" stroke="#fff" stroke-width="0.6" transform="rotate(-20 202 7)"/></g>
<g transform="translate(284.5 778) rotate(45)" font-weight="bold">
<rect x="0.00" y="-3.2" width="20.38" height="6.4" fill="#ff0f0f" stroke="#333" stroke-opacity="0.45" stroke-width="0.4"/>
<rect x="20.33" y="-3.2" width="20.38" height="6.4" fill="#ff3f0f" stroke="#333" stroke-opacity="0.45" stroke-width="0.4"/>
<rect x="40.67" y="-3.2" width="20.38" height="6.4" fill="#ff6f0f" stroke="#333" stroke-opacity="0.45" stroke-width="0.4"/>
<rect x="61.00" y="-3.2" width="20.38" height="6.4" fill="#ff9f0f" stroke="#333" stroke-opacity="0.45" stroke-width="0.4"/>
<rect x="81.33" y="-3.2" width="20.38" height="6.4" fill="#ffcf0f" stroke="#333" stroke-opacity="0.45" stroke-width="0.4"/>
<rect x="101.67" y="-3.2" width="20.38" height="6.4" fill="#ffff0f" stroke="#333" stroke-opacity="0.45" stroke-width="0.4"/>
<rect x="122.00" y="-3.2" width="20.38" height="6.4" fill="#cfff0f" stroke="#333" stroke-opacity="0.45" stroke-width="0.4"/>
<rect x="142.33" y="-3.2" width="20.38" height="6.4" fill="#9fff0f" stroke="#333" stroke-opacity="0.45" stroke-width="0.4"/>
<rect x="162.67" y="-3.2" width="20.38" height="6.4" fill="#6fff0f" stroke="#333" stroke-opacity="0.45" stroke-width="0.4"/>
<rect x="183.00" y="-3.2" width="20.38" height="6.4" fill="#3fff0f" stroke="#333" stroke-opacity="0.45" stroke-width="0.4"/>
<rect x="203.33" y="-3.2" width="20.38" height="6.4" fill="#0fff0f" stroke="#333" stroke-opacity="0.45" stroke-width="0.4"/>
<rect x="223.67" y="-3.2" width="20.38" height="6.4" fill="#0fff3f" stroke="#333" stroke-opacity="0.45" stroke-width="0.4"/>
<rect x="244.00" y="-3.2" width="20.38" height="6.4" fill="#0fff6f" stroke="#333" stroke-opacity="0.45" stroke-width="0.4"/>
<rect x="264.33" y="-3.2" width="20.38" height="6.4" fill="#0fff9f" stroke="#333" stroke-opacity="0.45" stroke-width="0.4"/>
<rect x="284.67" y="-3.2" width="20.38" height="6.4" fill="#0fffcf" stroke="#333" stroke-opacity="0.45" stroke-width="0.4"/>
<rect x="305.00" y="-3.2" width="20.38" height="6.4" fill="#0fffff" stroke="#333" stroke-opacity="0.45" stroke-width="0.4"/>
<rect x="325.33" y="-3.2" width="20.38" height="6.4" fill="#0fcfff" stroke="#333" stroke-opacity="0.45" stroke-width="0.4"/>
<rect x="345.67" y="-3.2" width="20.38" height="6.4" fill="#0f9fff" stroke="#333" stroke-opacity="0.45" stroke-width="0.4"/>
<rect x="366.00" y="-3.2" width="20.38" height="6.4" fill="#0f6fff" stroke="#333" stroke-opacity="0.45" stroke-width="0.4"/>
<rect x="386.33" y="-3.2" width="20.38" height="6.4" fill="#0f3fff" stroke="#333" stroke-opacity="0.45" stroke-width="0.4"/>
<rect x="406.67" y="-3.2" width="20.38" height="6.4" fill="#0f0fff" stroke="#333" stroke-opacity="0.45" stroke-width="0.4"/>
<text x="10.0" y="11.4" font-size="7.2" text-anchor="middle">106.59</text>
<text x="50.8" y="11.4" font-size="7.2" text-anchor="middle">96.44</text>
<text x="71.2" y="19.0" font-size="7.2" text-anchor="middle">91.36</text>
<text x="91.6" y="11.4" font-size="7.2" text-anchor="middle">86.29</text>
<text x="112.0" y="19.0" font-size="7.2" text-anchor="middle">81.21</text>
<text x="132.4" y="11.4" font-size="7.2" text-anchor="middle">76.14</text>
<text x="152.8" y="19.0" font-size="7.2" text-anchor="middle">71.06</text>
<text x="173.2" y="11.4" font-size="7.2" text-anchor="middle">65.98</text>
<text x="193.6" y="19.0" font-size="7.2" text-anchor="middle">60.91</text>
<text x="214.0" y="11.4" font-size="7.2" text-anchor="middle">55.83</text>
<text x="234.4" y="19.0" font-size="7.2" text-anchor="middle">50.76</text>
<text x="254.8" y="11.4" font-size="7.2" text-anchor="middle">45.68</text>
<text x="275.2" y="19.0" font-size="7.2" text-anchor="middle">40.61</text>
<text x="295.6" y="11.4" font-size="7.2" text-anchor="middle">35.53</text>
<text x="316.0" y="19.0" font-size="7.2" text-anchor="middle">30.46</text>
<text x="336.4" y="11.4" font-size="7.2" text-anchor="middle">25.38</text>
<text x="356.8" y="19.0" font-size="7.2" text-anchor="middle">20.31</text>
<text x="377.2" y="11.4" font-size="7.2" text-anchor="middle">15.23</text>
<text x="397.6" y="19.0" font-size="7.2" text-anchor="middle">10.16</text>
<text x="418.0" y="11.4" font-size="7.2" text-anchor="middle">5.08</text>
<text x="438.4" y="19.0" font-size="7.2" text-anchor="middle">0.00</text>
<text x="0.5" y="19.0" font-size="7.4">106.59 Max</text>
<text x="1.7" y="-22.6" font-size="7.8">Unit: MPa</text>
<text x="1.7" y="-14.8" font-size="7.8">Solid domain</text>
<text x="1.7" y="-7" font-size="7.8">Type: Von-Mises Stress</text>
</g>
</g>
<rect x="74.0" y="735.2" width="543.3" height="436.29999999999995" fill="none" stroke="#000" stroke-width="2"/>
<text x="68.6" y="743.3" font-size="22" text-anchor="end" fill="#000">59.4</text>
<line x1="74.0" y1="776.3" x2="80.0" y2="776.3" stroke="#000" stroke-width="2"/>
<text x="68.6" y="785.0" font-size="22" text-anchor="end" fill="#000">59.2</text>
<line x1="74.0" y1="818.0" x2="80.0" y2="818.0" stroke="#000" stroke-width="2"/>
<text x="68.6" y="826.7" font-size="22" text-anchor="end" fill="#000">59.0</text>
<line x1="74.0" y1="859.7" x2="80.0" y2="859.7" stroke="#000" stroke-width="2"/>
<text x="68.6" y="868.4" font-size="22" text-anchor="end" fill="#000">58.8</text>
<line x1="74.0" y1="901.4" x2="80.0" y2="901.4" stroke="#000" stroke-width="2"/>
<text x="68.6" y="910.1" font-size="22" text-anchor="end" fill="#000">58.6</text>
<line x1="74.0" y1="943.1" x2="80.0" y2="943.1" stroke="#000" stroke-width="2"/>
<text x="68.6" y="951.8" font-size="22" text-anchor="end" fill="#000">58.4</text>
<line x1="74.0" y1="984.8" x2="80.0" y2="984.8" stroke="#000" stroke-width="2"/>
<text x="68.6" y="993.5" font-size="22" text-anchor="end" fill="#000">58.2</text>
<line x1="74.0" y1="1026.5" x2="80.0" y2="1026.5" stroke="#000" stroke-width="2"/>
<text x="68.6" y="1035.2" font-size="22" text-anchor="end" fill="#000">58.0</text>
<line x1="74.0" y1="1068.2" x2="80.0" y2="1068.2" stroke="#000" stroke-width="2"/>
<text x="68.6" y="1076.9" font-size="22" text-anchor="end" fill="#000">57.8</text>
<line x1="74.0" y1="1109.9" x2="80.0" y2="1109.9" stroke="#000" stroke-width="2"/>
<text x="68.6" y="1118.6" font-size="22" text-anchor="end" fill="#000">57.6</text>
<line x1="74.0" y1="1151.6" x2="80.0" y2="1151.6" stroke="#000" stroke-width="2"/>
<text x="68.6" y="1160.3" font-size="22" text-anchor="end" fill="#000">57.4</text>
<text x="627" y="742.5" font-size="22" text-anchor="start" fill="#000">108</text>
<line x1="611.3" y1="789.3" x2="617.3" y2="789.3" stroke="#000" stroke-width="2"/>
<text x="627" y="797.1" font-size="22" text-anchor="start" fill="#000">106</text>
<line x1="611.3" y1="843.9" x2="617.3" y2="843.9" stroke="#000" stroke-width="2"/>
<text x="627" y="851.7" font-size="22" text-anchor="start" fill="#000">104</text>
<line x1="611.3" y1="898.5" x2="617.3" y2="898.5" stroke="#000" stroke-width="2"/>
<text x="627" y="906.3" font-size="22" text-anchor="start" fill="#000">102</text>
<line x1="611.3" y1="953.1" x2="617.3" y2="953.1" stroke="#000" stroke-width="2"/>
<text x="627" y="960.9" font-size="22" text-anchor="start" fill="#000">100</text>
<line x1="611.3" y1="1007.7" x2="617.3" y2="1007.7" stroke="#000" stroke-width="2"/>
<text x="627" y="1015.5" font-size="22" text-anchor="start" fill="#000">98</text>
<line x1="611.3" y1="1062.3" x2="617.3" y2="1062.3" stroke="#000" stroke-width="2"/>
<text x="627" y="1070.1" font-size="22" text-anchor="start" fill="#000">96</text>
<line x1="611.3" y1="1116.9" x2="617.3" y2="1116.9" stroke="#000" stroke-width="2"/>
<text x="627" y="1124.7" font-size="22" text-anchor="start" fill="#000">94</text>
<text x="627" y="1179.3" font-size="22" text-anchor="start" fill="#000">92</text>
<text x="80.0" y="1197.5" font-size="22" text-anchor="middle" fill="#000">0.0</text>
<line x1="159.0" y1="1165.5" x2="159.0" y2="1171.5" stroke="#000" stroke-width="2"/>
<text x="165.0" y="1197.5" font-size="22" text-anchor="middle" fill="#000">0.5</text>
<line x1="244.0" y1="1165.5" x2="244.0" y2="1171.5" stroke="#000" stroke-width="2"/>
<text x="250.0" y="1197.5" font-size="22" text-anchor="middle" fill="#000">1.0</text>
<line x1="329.0" y1="1165.5" x2="329.0" y2="1171.5" stroke="#000" stroke-width="2"/>
<text x="335.0" y="1197.5" font-size="22" text-anchor="middle" fill="#000">1.5</text>
<line x1="414.0" y1="1165.5" x2="414.0" y2="1171.5" stroke="#000" stroke-width="2"/>
<text x="420.0" y="1197.5" font-size="22" text-anchor="middle" fill="#000">2.0</text>
<line x1="499.0" y1="1165.5" x2="499.0" y2="1171.5" stroke="#000" stroke-width="2"/>
<text x="505.0" y="1197.5" font-size="22" text-anchor="middle" fill="#000">2.5</text>
<line x1="584.0" y1="1165.5" x2="584.0" y2="1171.5" stroke="#000" stroke-width="2"/>
<text x="590.0" y="1197.5" font-size="22" text-anchor="middle" fill="#000">3.0</text>
<text x="80.4" y="730.5" font-size="22" text-anchor="middle" fill="#000">0.0</text>
<line x1="138.7" y1="735.2" x2="138.7" y2="741.2" stroke="#000" stroke-width="2"/>
<text x="145.1" y="730.5" font-size="22" text-anchor="middle" fill="#000">0.5</text>
<line x1="203.4" y1="735.2" x2="203.4" y2="741.2" stroke="#000" stroke-width="2"/>
<text x="209.8" y="730.5" font-size="22" text-anchor="middle" fill="#000">1.0</text>
<line x1="268.1" y1="735.2" x2="268.1" y2="741.2" stroke="#000" stroke-width="2"/>
<text x="274.5" y="730.5" font-size="22" text-anchor="middle" fill="#000">1.5</text>
<line x1="332.8" y1="735.2" x2="332.8" y2="741.2" stroke="#000" stroke-width="2"/>
<text x="339.2" y="730.5" font-size="22" text-anchor="middle" fill="#000">2.0</text>
<line x1="397.5" y1="735.2" x2="397.5" y2="741.2" stroke="#000" stroke-width="2"/>
<text x="403.9" y="730.5" font-size="22" text-anchor="middle" fill="#000">2.5</text>
<line x1="462.2" y1="735.2" x2="462.2" y2="741.2" stroke="#000" stroke-width="2"/>
<text x="468.6" y="730.5" font-size="22" text-anchor="middle" fill="#000">3.0</text>
<line x1="526.9" y1="735.2" x2="526.9" y2="741.2" stroke="#000" stroke-width="2"/>
<text x="533.3" y="730.5" font-size="22" text-anchor="middle" fill="#000">3.5</text>
<line x1="591.6" y1="735.2" x2="591.6" y2="741.2" stroke="#000" stroke-width="2"/>
<text x="598.0" y="730.5" font-size="22" text-anchor="middle" fill="#000">4.0</text>
<text x="359.8" y="708.1" font-size="22.5" text-anchor="middle" fill="#000">Mesh size (mm)</text>
<text x="359.8" y="1220" font-size="22.5" text-anchor="middle" fill="#000">Mesh size (mm)</text>
<text x="16" y="948.5" font-size="22.4" text-anchor="middle" fill="#000" transform="rotate(-90 16 948.5)">Pressure (MPa)</text>
<text x="680" y="949" font-size="22.2" text-anchor="middle" fill="#000" transform="rotate(-90 680 949)">Stress (MPa)</text>
<path d="M138.7,763.9 L141.0,763.7 L143.3,763.4 L145.5,763.2 L147.8,763.0 L150.1,762.8 L152.4,762.6 L154.6,762.4 L156.9,762.3 L159.2,762.2 L161.5,762.2 L163.7,762.2 L166.0,762.2 L168.3,762.3 L170.6,762.4 L172.8,762.6 L175.1,762.9 L177.4,763.2 L179.7,763.6 L181.9,764.1 L184.2,764.7 L186.5,765.3 L188.8,766.1 L191.0,766.9 L193.3,767.8 L195.6,768.8 L197.9,770.0 L200.1,771.2 L202.4,772.6 L204.7,774.1 L207.0,775.6 L209.3,777.4 L211.5,779.2 L213.8,781.1 L216.1,783.1 L218.4,785.3 L220.6,787.5 L222.9,789.8 L225.2,792.3 L227.5,794.8 L229.7,797.4 L232.0,800.1 L234.3,802.9 L236.6,805.7 L238.8,808.6 L241.1,811.6 L243.4,814.7 L245.7,817.8 L247.9,821.0 L250.2,824.2 L252.5,827.5 L254.8,830.9 L257.0,834.3 L259.3,837.7 L261.6,841.2 L263.9,844.8 L266.1,848.3 L268.4,851.9 L270.7,855.6 L273.0,859.2 L275.3,862.9 L277.5,866.6 L279.8,870.3 L282.1,874.1 L284.4,877.8 L286.6,881.6 L288.9,885.3 L291.2,889.1 L293.5,892.8 L295.7,896.6 L298.0,900.4 L300.3,904.1 L302.6,907.8 L304.8,911.5 L307.1,915.2 L309.4,918.9 L311.7,922.5 L313.9,926.1 L316.2,929.7 L318.5,933.2 L320.8,936.7 L323.0,940.2 L325.3,943.6 L327.6,947.0 L329.9,950.3 L332.1,953.5 L334.4,956.7 L336.7,959.9 L339.0,963.0 L341.3,966.0 L343.5,969.0 L345.8,971.9 L348.1,974.8 L350.4,977.6 L352.6,980.3 L354.9,983.0 L357.2,985.7 L359.5,988.3 L361.7,990.9 L364.0,993.4 L366.3,995.9 L368.6,998.3 L370.8,1000.7 L373.1,1003.0 L375.4,1005.3 L377.7,1007.5 L379.9,1009.8 L382.2,1011.9 L384.5,1014.1 L386.8,1016.2 L389.0,1018.2 L391.3,1020.2 L393.6,1022.2 L395.9,1024.2 L398.2,1026.1 L400.4,1028.0 L402.7,1029.8 L405.0,1031.7 L407.3,1033.5 L409.5,1035.2 L411.8,1037.0 L414.1,1038.7 L416.4,1040.4 L418.6,1042.0 L420.9,1043.7 L423.2,1045.3 L425.5,1046.9 L427.7,1048.4 L430.0,1050.0 L432.3,1051.5 L434.6,1053.0 L436.8,1054.5 L439.1,1056.0 L441.4,1057.4 L443.7,1058.9 L445.9,1060.3 L448.2,1061.7 L450.5,1063.1 L452.8,1064.5 L455.0,1065.9 L457.3,1067.3 L459.6,1068.7 L461.9,1070.0 L464.2,1071.4 L466.4,1072.7 L468.7,1074.1 L471.0,1075.4 L473.3,1076.7 L475.5,1078.0 L477.8,1079.4 L480.1,1080.7 L482.4,1082.0 L484.6,1083.3 L486.9,1084.6 L489.2,1085.8 L491.5,1087.1 L493.7,1088.4 L496.0,1089.7 L498.3,1090.9 L500.6,1092.2 L502.8,1093.5 L505.1,1094.7 L507.4,1096.0 L509.7,1097.2 L511.9,1098.4 L514.2,1099.7 L516.5,1100.9 L518.8,1102.1 L521.0,1103.4 L523.3,1104.6 L525.6,1105.8 L527.9,1107.0 L530.2,1108.2 L532.4,1109.4 L534.7,1110.6 L537.0,1111.8 L539.3,1113.0 L541.5,1114.2 L543.8,1115.4 L546.1,1116.6 L548.4,1117.8 L550.6,1119.0 L552.9,1120.2 L555.2,1121.4 L557.5,1122.5 L559.7,1123.7 L562.0,1124.9 L564.3,1126.1 L566.6,1127.2 L568.8,1128.4 L571.1,1129.6 L573.4,1130.8 L575.7,1131.9 L577.9,1133.1 L580.2,1134.3 L582.5,1135.4 L584.8,1136.6 L587.0,1137.8 L589.3,1138.9 L591.6,1140.1" fill="none" stroke="#ff0000" stroke-width="2.2"/>
<path d="M108.0,768.0 L110.4,769.0 L112.8,770.0 L115.2,771.0 L117.6,772.0 L120.0,773.0 L122.4,773.9 L124.7,774.9 L127.1,775.8 L129.5,776.7 L131.9,777.6 L134.3,778.4 L136.7,779.2 L139.1,780.0 L141.5,780.7 L143.9,781.4 L146.3,782.1 L148.7,782.7 L151.1,783.2 L153.4,783.7 L155.8,784.2 L158.2,784.5 L160.6,784.8 L163.0,785.1 L165.4,785.3 L167.8,785.4 L170.2,785.5 L172.6,785.6 L175.0,785.6 L177.4,785.6 L179.8,785.6 L182.2,785.6 L184.5,785.5 L186.9,785.5 L189.3,785.4 L191.7,785.4 L194.1,785.4 L196.5,785.4 L198.9,785.4 L201.3,785.4 L203.7,785.5 L206.1,785.6 L208.5,785.7 L210.9,785.9 L213.2,786.2 L215.6,786.5 L218.0,786.9 L220.4,787.4 L222.8,788.0 L225.2,788.6 L227.6,789.3 L230.0,790.1 L232.4,791.1 L234.8,792.1 L237.2,793.2 L239.6,794.5 L241.9,795.9 L244.3,797.4 L246.7,799.0 L249.1,800.8 L251.5,802.7 L253.9,804.7 L256.3,806.9 L258.7,809.1 L261.1,811.5 L263.5,814.0 L265.9,816.6 L268.3,819.3 L270.7,822.1 L273.0,825.0 L275.4,828.0 L277.8,831.1 L280.2,834.3 L282.6,837.6 L285.0,840.9 L287.4,844.4 L289.8,847.9 L292.2,851.5 L294.6,855.1 L297.0,858.9 L299.4,862.6 L301.7,866.5 L304.1,870.4 L306.5,874.4 L308.9,878.4 L311.3,882.4 L313.7,886.5 L316.1,890.7 L318.5,894.9 L320.9,899.1 L323.3,903.4 L325.7,907.6 L328.1,912.0 L330.5,916.3 L332.8,920.7 L335.2,925.0 L337.6,929.4 L340.0,933.8 L342.4,938.2 L344.8,942.6 L347.2,947.0 L349.6,951.4 L352.0,955.8 L354.4,960.2 L356.8,964.6 L359.2,969.0 L361.5,973.3 L363.9,977.6 L366.3,981.9 L368.7,986.2 L371.1,990.5 L373.5,994.7 L375.9,998.8 L378.3,1003.0 L380.7,1007.1 L383.1,1011.1 L385.5,1015.1 L387.9,1019.0 L390.3,1022.9 L392.6,1026.8 L395.0,1030.5 L397.4,1034.2 L399.8,1037.8 L402.2,1041.4 L404.6,1044.9 L407.0,1048.3 L409.4,1051.6 L411.8,1054.8 L414.2,1058.0 L416.6,1061.1 L419.0,1064.0 L421.3,1066.9 L423.7,1069.7 L426.1,1072.4 L428.5,1075.1 L430.9,1077.6 L433.3,1080.1 L435.7,1082.4 L438.1,1084.7 L440.5,1087.0 L442.9,1089.1 L445.3,1091.2 L447.7,1093.2 L450.1,1095.1 L452.4,1097.0 L454.8,1098.8 L457.2,1100.5 L459.6,1102.1 L462.0,1103.7 L464.4,1105.3 L466.8,1106.7 L469.2,1108.1 L471.6,1109.4 L474.0,1110.7 L476.4,1111.9 L478.8,1113.1 L481.1,1114.2 L483.5,1115.2 L485.9,1116.2 L488.3,1117.2 L490.7,1118.0 L493.1,1118.9 L495.5,1119.7 L497.9,1120.4 L500.3,1121.1 L502.7,1121.8 L505.1,1122.4 L507.5,1123.0 L509.8,1123.5 L512.2,1124.0 L514.6,1124.4 L517.0,1124.8 L519.4,1125.2 L521.8,1125.6 L524.2,1125.9 L526.6,1126.1 L529.0,1126.4 L531.4,1126.6 L533.8,1126.8 L536.2,1127.0 L538.6,1127.1 L540.9,1127.2 L543.3,1127.3 L545.7,1127.4 L548.1,1127.4 L550.5,1127.5 L552.9,1127.5 L555.3,1127.5 L557.7,1127.4 L560.1,1127.4 L562.5,1127.4 L564.9,1127.3 L567.3,1127.2 L569.6,1127.2 L572.0,1127.1 L574.4,1127.0 L576.8,1126.9 L579.2,1126.8 L581.6,1126.7 L584.0,1126.6" fill="none" stroke="#0000ff" stroke-width="2.2"/>
<rect x="133.9" y="759.1" width="9.6" height="9.6" fill="#ff0000"/>
<rect x="198.6" y="768.4" width="9.6" height="9.6" fill="#ff0000"/>
<rect x="328.0" y="949.7" width="9.6" height="9.6" fill="#ff0000"/>
<rect x="457.4" y="1065.4" width="9.6" height="9.6" fill="#ff0000"/>
<rect x="586.8" y="1135.3" width="9.6" height="9.6" fill="#ff0000"/>
<rect x="103.2" y="763.2" width="9.6" height="9.6" fill="#0000ff"/>
<rect x="154.2" y="779.8" width="9.6" height="9.6" fill="#0000ff"/>
<rect x="239.2" y="792.3" width="9.6" height="9.6" fill="#0000ff"/>
<rect x="409.2" y="1053.0" width="9.6" height="9.6" fill="#0000ff"/>
<rect x="579.2" y="1121.8" width="9.6" height="9.6" fill="#0000ff"/>
<text x="132.8" y="754.5" font-size="22.6" text-anchor="middle" fill="#ff0000" style="stroke:#ff0000">106.93</text>
<text x="209" y="759.5" font-size="22.6" text-anchor="middle" fill="#ff0000" style="stroke:#ff0000">106.59</text>
<text x="103.8" y="793" font-size="22.6" text-anchor="middle" fill="#0000ff" style="stroke:#0000ff">59.24</text>
<text x="160" y="811" font-size="22.6" text-anchor="middle" fill="#0000ff" style="stroke:#0000ff">59.16</text>
<text x="252.5" y="791" font-size="22.6" text-anchor="middle" fill="#0000ff" style="stroke:#0000ff">59.1</text>
<text x="586.2" y="1120" font-size="22.6" text-anchor="middle" fill="#0000ff" style="stroke:#0000ff">57.52</text>
<text x="588.8" y="1166" font-size="22.6" text-anchor="middle" fill="#ff0000" style="stroke:#ff0000">93.15</text>
<text x="297" y="952" font-size="22.4" text-anchor="start" fill="#ff0000" style="stroke:#ff0000" transform="rotate(50 297 952)">99.95</text>
<text x="379" y="1060.3" font-size="22.4" text-anchor="start" fill="#0000ff" style="stroke:#0000ff" transform="rotate(41 379 1060.3)">57.85</text>
<text x="448.5" y="1046.3" font-size="22.4" text-anchor="start" fill="#ff0000" style="stroke:#ff0000" transform="rotate(26.5 448.5 1046.3)">95.71</text>
<line x1="430.5" y1="753" x2="483" y2="753" stroke="#0000ff" stroke-width="2"/><rect x="452" y="748.2" width="9.6" height="9.6" fill="#0000ff"/>
<line x1="430.5" y1="778" x2="483" y2="778" stroke="#ff0000" stroke-width="2"/><rect x="452" y="773.2" width="9.6" height="9.6" fill="#ff0000"/>
<text x="489" y="760.5" font-size="22.7" text-anchor="start" fill="#000">Fluid domain</text>
<text x="489" y="785.5" font-size="22.7" text-anchor="start" fill="#000">Solid domain</text>
<text x="216.8" y="1267.9" font-size="28"><tspan font-weight="bold">(c)</tspan> Grid independence</text>
</g>
</svg></body></html>
